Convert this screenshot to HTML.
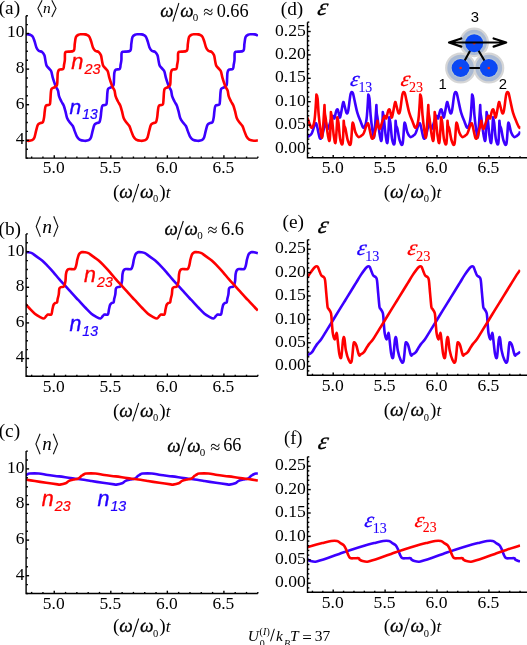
<!DOCTYPE html>
<html><head><meta charset="utf-8"><style>
html,body{margin:0;padding:0;background:#fff;}
body{width:527px;height:645px;overflow:hidden;}
svg{display:block;will-change:transform;}
</style></head><body>
<svg width="527" height="645" viewBox="0 0 527 645">
<rect width="100%" height="100%" fill="#fff"/>
<clipPath id="c2"><rect x="25.98" y="0" width="232.15" height="645"/></clipPath>
<g clip-path="url(#c2)">
<path d="M22.98,34.51 C23.3,34.48 24.4,34.34 24.9,34.3 C25.4,34.26 25.4,34.28 26,34.3 C26.6,34.32 27.72,34.27 28.5,34.4 C29.28,34.53 29.95,34.65 30.7,35.1 C31.45,35.55 32.33,36 33,37.1 C33.67,38.2 34.13,39.98 34.7,41.7 C35.27,43.42 35.73,45.88 36.4,47.4 C37.07,48.92 37.75,50.05 38.7,50.8 C39.65,51.55 41.15,51.15 42.1,51.9 C43.05,52.65 43.83,53.78 44.4,55.3 C44.97,56.82 45.13,59.28 45.5,61 C45.87,62.72 46.03,64.37 46.6,65.6 C47.17,66.83 48.13,67.45 48.9,68.4 C49.67,69.35 50.53,69.68 51.2,71.3 C51.87,72.92 52.23,75.82 52.9,78.1 C53.57,80.38 54.63,83.43 55.2,85 C55.77,86.57 55.83,86.55 56.3,87.5 C56.77,88.45 57.53,89.22 58,90.7 C58.47,92.18 58.53,94.6 59.1,96.4 C59.67,98.2 60.63,99.98 61.4,101.5 C62.17,103.02 63.03,103.88 63.7,105.5 C64.37,107.12 64.83,109.12 65.4,111.2 C65.97,113.28 66.35,116.1 67.1,118 C67.85,119.9 68.95,121.27 69.9,122.6 C70.85,123.93 72.03,124.67 72.8,126 C73.57,127.33 73.83,128.88 74.5,130.6 C75.17,132.32 75.95,134.78 76.8,136.3 C77.65,137.82 78.37,138.95 79.6,139.7 C80.83,140.45 82.68,140.72 84.2,140.8 C85.72,140.88 87.57,140.77 88.7,140.2 C89.83,139.63 90.33,139 91,137.4 C91.67,135.8 92.13,132.68 92.7,130.6 C93.27,128.52 93.73,126.13 94.4,124.9 C95.07,123.67 95.85,123.68 96.7,123.2 C97.55,122.72 98.83,123.05 99.5,122 C100.17,120.95 100.4,118.7 100.7,116.9 C101,115.1 101.02,113.07 101.3,111.2 C101.58,109.33 101.58,106.8 102.4,105.7 C103.22,104.6 105.43,105.75 106.2,104.6 C106.97,103.45 106.8,100.8 107,98.8 C107.2,96.8 107.2,94.28 107.4,92.6 C107.6,90.92 107.55,89.62 108.2,88.7 C108.85,87.78 110.4,87.75 111.3,87.1 C112.2,86.45 113.15,86.22 113.6,84.8 C114.05,83.38 113.87,80.67 114,78.6 C114.13,76.53 114.08,73.88 114.4,72.4 C114.72,70.92 115,70.28 115.9,69.7 C116.8,69.12 119.02,69.73 119.8,68.9 C120.58,68.07 120.33,66.18 120.6,64.7 C120.87,63.22 121.23,61.95 121.4,60 C121.57,58.05 121.28,54.38 121.6,53 C121.92,51.62 121.87,52.07 123.3,51.7 C124.73,51.33 128.87,52.1 130.2,50.8 C131.53,49.5 130.92,46.18 131.3,43.9 C131.68,41.62 131.83,38.65 132.5,37.1 C133.17,35.55 134.38,35.07 135.3,34.6 C136.22,34.13 137.37,34.35 138,34.3 C138.63,34.25 138.5,34.28 139.1,34.3 C139.7,34.32 140.82,34.27 141.6,34.4 C142.38,34.53 143.05,34.65 143.8,35.1 C144.55,35.55 145.43,36 146.1,37.1 C146.77,38.2 147.23,39.98 147.8,41.7 C148.37,43.42 148.83,45.88 149.5,47.4 C150.17,48.92 150.85,50.05 151.8,50.8 C152.75,51.55 154.25,51.15 155.2,51.9 C156.15,52.65 156.93,53.78 157.5,55.3 C158.07,56.82 158.23,59.28 158.6,61 C158.97,62.72 159.13,64.37 159.7,65.6 C160.27,66.83 161.23,67.45 162,68.4 C162.77,69.35 163.63,69.68 164.3,71.3 C164.97,72.92 165.33,75.82 166,78.1 C166.67,80.38 167.73,83.43 168.3,85 C168.87,86.57 168.93,86.55 169.4,87.5 C169.87,88.45 170.63,89.22 171.1,90.7 C171.57,92.18 171.63,94.6 172.2,96.4 C172.77,98.2 173.73,99.98 174.5,101.5 C175.27,103.02 176.13,103.88 176.8,105.5 C177.47,107.12 177.93,109.12 178.5,111.2 C179.07,113.28 179.45,116.1 180.2,118 C180.95,119.9 182.05,121.27 183,122.6 C183.95,123.93 185.13,124.67 185.9,126 C186.67,127.33 186.93,128.88 187.6,130.6 C188.27,132.32 189.05,134.78 189.9,136.3 C190.75,137.82 191.47,138.95 192.7,139.7 C193.93,140.45 195.78,140.72 197.3,140.8 C198.82,140.88 200.67,140.77 201.8,140.2 C202.93,139.63 203.43,139 204.1,137.4 C204.77,135.8 205.23,132.68 205.8,130.6 C206.37,128.52 206.83,126.13 207.5,124.9 C208.17,123.67 208.95,123.68 209.8,123.2 C210.65,122.72 211.93,123.05 212.6,122 C213.27,120.95 213.5,118.7 213.8,116.9 C214.1,115.1 214.12,113.07 214.4,111.2 C214.68,109.33 214.68,106.8 215.5,105.7 C216.32,104.6 218.53,105.75 219.3,104.6 C220.07,103.45 219.9,100.8 220.1,98.8 C220.3,96.8 220.3,94.28 220.5,92.6 C220.7,90.92 220.65,89.62 221.3,88.7 C221.95,87.78 223.5,87.75 224.4,87.1 C225.3,86.45 226.25,86.22 226.7,84.8 C227.15,83.38 226.97,80.67 227.1,78.6 C227.23,76.53 227.18,73.88 227.5,72.4 C227.82,70.92 228.1,70.28 229,69.7 C229.9,69.12 232.12,69.73 232.9,68.9 C233.68,68.07 233.43,66.18 233.7,64.7 C233.97,63.22 234.33,61.95 234.5,60 C234.67,58.05 234.38,54.38 234.7,53 C235.02,51.62 234.97,52.07 236.4,51.7 C237.83,51.33 241.97,52.1 243.3,50.8 C244.63,49.5 244.02,46.18 244.4,43.9 C244.78,41.62 244.93,38.65 245.6,37.1 C246.27,35.55 247.48,35.07 248.4,34.6 C249.32,34.13 250.47,34.35 251.1,34.3 C251.73,34.25 251.6,34.28 252.2,34.3 C252.8,34.32 253.92,34.27 254.7,34.4 C255.48,34.53 256.38,34.85 256.9,35.1 C257.42,35.35 257.67,35.77 257.83,35.91" fill="none" stroke="#3c00ff" stroke-width="2.6" stroke-linejoin="round" stroke-linecap="butt"/>
<path d="M22.98,139.61 C22.99,139.62 22.27,139.5 23.05,139.7 C23.83,139.9 26.13,140.72 27.65,140.8 C29.17,140.88 31.02,140.77 32.15,140.2 C33.28,139.63 33.78,139 34.45,137.4 C35.12,135.8 35.58,132.68 36.15,130.6 C36.72,128.52 37.18,126.13 37.85,124.9 C38.52,123.67 39.3,123.68 40.15,123.2 C41,122.72 42.28,123.05 42.95,122 C43.62,120.95 43.85,118.7 44.15,116.9 C44.45,115.1 44.47,113.07 44.75,111.2 C45.03,109.33 45.03,106.8 45.85,105.7 C46.67,104.6 48.88,105.75 49.65,104.6 C50.42,103.45 50.25,100.8 50.45,98.8 C50.65,96.8 50.65,94.28 50.85,92.6 C51.05,90.92 51,89.62 51.65,88.7 C52.3,87.78 53.85,87.75 54.75,87.1 C55.65,86.45 56.6,86.22 57.05,84.8 C57.5,83.38 57.32,80.67 57.45,78.6 C57.58,76.53 57.53,73.88 57.85,72.4 C58.17,70.92 58.45,70.28 59.35,69.7 C60.25,69.12 62.47,69.73 63.25,68.9 C64.03,68.07 63.78,66.18 64.05,64.7 C64.32,63.22 64.68,61.95 64.85,60 C65.02,58.05 64.73,54.38 65.05,53 C65.37,51.62 65.32,52.07 66.75,51.7 C68.18,51.33 72.32,52.1 73.65,50.8 C74.98,49.5 74.37,46.18 74.75,43.9 C75.13,41.62 75.28,38.65 75.95,37.1 C76.62,35.55 77.83,35.07 78.75,34.6 C79.67,34.13 80.82,34.35 81.45,34.3 C82.08,34.25 81.95,34.28 82.55,34.3 C83.15,34.32 84.27,34.27 85.05,34.4 C85.83,34.53 86.5,34.65 87.25,35.1 C88,35.55 88.88,36 89.55,37.1 C90.22,38.2 90.68,39.98 91.25,41.7 C91.82,43.42 92.28,45.88 92.95,47.4 C93.62,48.92 94.3,50.05 95.25,50.8 C96.2,51.55 97.7,51.15 98.65,51.9 C99.6,52.65 100.38,53.78 100.95,55.3 C101.52,56.82 101.68,59.28 102.05,61 C102.42,62.72 102.58,64.37 103.15,65.6 C103.72,66.83 104.68,67.45 105.45,68.4 C106.22,69.35 107.08,69.68 107.75,71.3 C108.42,72.92 108.78,75.82 109.45,78.1 C110.12,80.38 111.18,83.43 111.75,85 C112.32,86.57 112.38,86.55 112.85,87.5 C113.32,88.45 114.08,89.22 114.55,90.7 C115.02,92.18 115.08,94.6 115.65,96.4 C116.22,98.2 117.18,99.98 117.95,101.5 C118.72,103.02 119.58,103.88 120.25,105.5 C120.92,107.12 121.38,109.12 121.95,111.2 C122.52,113.28 122.9,116.1 123.65,118 C124.4,119.9 125.5,121.27 126.45,122.6 C127.4,123.93 128.58,124.67 129.35,126 C130.12,127.33 130.38,128.88 131.05,130.6 C131.72,132.32 132.5,134.78 133.35,136.3 C134.2,137.82 134.92,138.95 136.15,139.7 C137.38,140.45 139.23,140.72 140.75,140.8 C142.27,140.88 144.12,140.77 145.25,140.2 C146.38,139.63 146.88,139 147.55,137.4 C148.22,135.8 148.68,132.68 149.25,130.6 C149.82,128.52 150.28,126.13 150.95,124.9 C151.62,123.67 152.4,123.68 153.25,123.2 C154.1,122.72 155.38,123.05 156.05,122 C156.72,120.95 156.95,118.7 157.25,116.9 C157.55,115.1 157.57,113.07 157.85,111.2 C158.13,109.33 158.13,106.8 158.95,105.7 C159.77,104.6 161.98,105.75 162.75,104.6 C163.52,103.45 163.35,100.8 163.55,98.8 C163.75,96.8 163.75,94.28 163.95,92.6 C164.15,90.92 164.1,89.62 164.75,88.7 C165.4,87.78 166.95,87.75 167.85,87.1 C168.75,86.45 169.7,86.22 170.15,84.8 C170.6,83.38 170.42,80.67 170.55,78.6 C170.68,76.53 170.63,73.88 170.95,72.4 C171.27,70.92 171.55,70.28 172.45,69.7 C173.35,69.12 175.57,69.73 176.35,68.9 C177.13,68.07 176.88,66.18 177.15,64.7 C177.42,63.22 177.78,61.95 177.95,60 C178.12,58.05 177.83,54.38 178.15,53 C178.47,51.62 178.42,52.07 179.85,51.7 C181.28,51.33 185.42,52.1 186.75,50.8 C188.08,49.5 187.47,46.18 187.85,43.9 C188.23,41.62 188.38,38.65 189.05,37.1 C189.72,35.55 190.93,35.07 191.85,34.6 C192.77,34.13 193.92,34.35 194.55,34.3 C195.18,34.25 195.05,34.28 195.65,34.3 C196.25,34.32 197.37,34.27 198.15,34.4 C198.93,34.53 199.6,34.65 200.35,35.1 C201.1,35.55 201.98,36 202.65,37.1 C203.32,38.2 203.78,39.98 204.35,41.7 C204.92,43.42 205.38,45.88 206.05,47.4 C206.72,48.92 207.4,50.05 208.35,50.8 C209.3,51.55 210.8,51.15 211.75,51.9 C212.7,52.65 213.48,53.78 214.05,55.3 C214.62,56.82 214.78,59.28 215.15,61 C215.52,62.72 215.68,64.37 216.25,65.6 C216.82,66.83 217.78,67.45 218.55,68.4 C219.32,69.35 220.18,69.68 220.85,71.3 C221.52,72.92 221.88,75.82 222.55,78.1 C223.22,80.38 224.28,83.43 224.85,85 C225.42,86.57 225.48,86.55 225.95,87.5 C226.42,88.45 227.18,89.22 227.65,90.7 C228.12,92.18 228.18,94.6 228.75,96.4 C229.32,98.2 230.28,99.98 231.05,101.5 C231.82,103.02 232.68,103.88 233.35,105.5 C234.02,107.12 234.48,109.12 235.05,111.2 C235.62,113.28 236,116.1 236.75,118 C237.5,119.9 238.6,121.27 239.55,122.6 C240.5,123.93 241.68,124.67 242.45,126 C243.22,127.33 243.48,128.88 244.15,130.6 C244.82,132.32 245.6,134.78 246.45,136.3 C247.3,137.82 248.02,138.95 249.25,139.7 C250.48,140.45 252.42,140.71 253.85,140.8 C255.28,140.89 257.17,140.36 257.83,140.27" fill="none" stroke="#ff0000" stroke-width="2.6" stroke-linejoin="round" stroke-linecap="butt"/>
</g>
<clipPath id="c7"><rect x="25.98" y="0" width="232.15" height="645"/></clipPath>
<g clip-path="url(#c7)">
<path d="M22.98,253.8 C23.3,253.54 24.4,252.48 24.9,252.2 C25.4,251.92 25.48,252.1 26,252.1 C26.52,252.1 27.03,252.02 28,252.2 C28.97,252.38 30.4,252.5 31.8,253.2 C33.2,253.9 34.68,255.2 36.4,256.4 C38.12,257.6 40.2,258.78 42.1,260.4 C44,262.02 45.9,264.12 47.8,266.1 C49.7,268.08 51.6,270.12 53.5,272.3 C55.4,274.48 57.3,277.02 59.2,279.2 C61.1,281.38 63,283.32 64.9,285.4 C66.8,287.48 68.7,289.6 70.6,291.7 C72.5,293.8 74.73,296.32 76.3,298 C77.87,299.68 78.43,300.13 80,301.8 C81.57,303.47 83.8,306.02 85.7,308 C87.6,309.98 89.7,312.27 91.4,313.7 C93.1,315.13 94.38,315.8 95.9,316.6 C97.42,317.4 99.35,318.6 100.5,318.5 C101.65,318.4 102.13,316.65 102.8,316 C103.47,315.35 103.65,314.88 104.5,314.6 C105.35,314.32 107.15,315.2 107.9,314.3 C108.65,313.4 108.62,310.82 109,309.2 C109.38,307.58 109.72,305.65 110.2,304.6 C110.68,303.55 111.33,303.28 111.9,302.9 C112.47,302.52 113.22,302.97 113.6,302.3 C113.98,301.63 113.92,300.22 114.2,298.9 C114.48,297.58 115.02,296.1 115.3,294.4 C115.58,292.7 115.53,289.9 115.9,288.7 C116.27,287.5 116.72,287.6 117.5,287.2 C118.28,286.8 119.85,287.33 120.6,286.3 C121.35,285.27 121.68,283.02 122,281 C122.32,278.98 122.22,276 122.5,274.2 C122.78,272.4 123.13,271.07 123.7,270.2 C124.27,269.33 124.67,269.2 125.9,269 C127.13,268.8 129.95,269.65 131.1,269 C132.25,268.35 132.33,266.7 132.8,265.1 C133.27,263.5 133.43,261.22 133.9,259.4 C134.37,257.58 134.92,255.4 135.6,254.2 C136.28,253 137.42,252.55 138,252.2 C138.58,251.85 138.58,252.1 139.1,252.1 C139.62,252.1 140.13,252.02 141.1,252.2 C142.07,252.38 143.5,252.5 144.9,253.2 C146.3,253.9 147.78,255.2 149.5,256.4 C151.22,257.6 153.3,258.78 155.2,260.4 C157.1,262.02 159,264.12 160.9,266.1 C162.8,268.08 164.7,270.12 166.6,272.3 C168.5,274.48 170.4,277.02 172.3,279.2 C174.2,281.38 176.1,283.32 178,285.4 C179.9,287.48 181.8,289.6 183.7,291.7 C185.6,293.8 187.83,296.32 189.4,298 C190.97,299.68 191.53,300.13 193.1,301.8 C194.67,303.47 196.9,306.02 198.8,308 C200.7,309.98 202.8,312.27 204.5,313.7 C206.2,315.13 207.48,315.8 209,316.6 C210.52,317.4 212.45,318.6 213.6,318.5 C214.75,318.4 215.23,316.65 215.9,316 C216.57,315.35 216.75,314.88 217.6,314.6 C218.45,314.32 220.25,315.2 221,314.3 C221.75,313.4 221.72,310.82 222.1,309.2 C222.48,307.58 222.82,305.65 223.3,304.6 C223.78,303.55 224.43,303.28 225,302.9 C225.57,302.52 226.32,302.97 226.7,302.3 C227.08,301.63 227.02,300.22 227.3,298.9 C227.58,297.58 228.12,296.1 228.4,294.4 C228.68,292.7 228.63,289.9 229,288.7 C229.37,287.5 229.82,287.6 230.6,287.2 C231.38,286.8 232.95,287.33 233.7,286.3 C234.45,285.27 234.78,283.02 235.1,281 C235.42,278.98 235.32,276 235.6,274.2 C235.88,272.4 236.23,271.07 236.8,270.2 C237.37,269.33 237.77,269.2 239,269 C240.23,268.8 243.05,269.65 244.2,269 C245.35,268.35 245.43,266.7 245.9,265.1 C246.37,263.5 246.53,261.22 247,259.4 C247.47,257.58 248.02,255.4 248.7,254.2 C249.38,253 250.52,252.55 251.1,252.2 C251.68,251.85 251.68,252.1 252.2,252.1 C252.72,252.1 253.26,252.02 254.2,252.2 C255.14,252.38 257.22,253 257.83,253.16" fill="none" stroke="#3c00ff" stroke-width="2.6" stroke-linejoin="round" stroke-linecap="butt"/>
<path d="M22.98,301.31 C23.05,301.39 22.42,300.69 23.45,301.8 C24.48,302.91 27.25,306.02 29.15,308 C31.05,309.98 33.15,312.27 34.85,313.7 C36.55,315.13 37.83,315.8 39.35,316.6 C40.87,317.4 42.8,318.6 43.95,318.5 C45.1,318.4 45.58,316.65 46.25,316 C46.92,315.35 47.1,314.88 47.95,314.6 C48.8,314.32 50.6,315.2 51.35,314.3 C52.1,313.4 52.07,310.82 52.45,309.2 C52.83,307.58 53.17,305.65 53.65,304.6 C54.13,303.55 54.78,303.28 55.35,302.9 C55.92,302.52 56.67,302.97 57.05,302.3 C57.43,301.63 57.37,300.22 57.65,298.9 C57.93,297.58 58.47,296.1 58.75,294.4 C59.03,292.7 58.98,289.9 59.35,288.7 C59.72,287.5 60.17,287.6 60.95,287.2 C61.73,286.8 63.3,287.33 64.05,286.3 C64.8,285.27 65.13,283.02 65.45,281 C65.77,278.98 65.67,276 65.95,274.2 C66.23,272.4 66.58,271.07 67.15,270.2 C67.72,269.33 68.12,269.2 69.35,269 C70.58,268.8 73.4,269.65 74.55,269 C75.7,268.35 75.78,266.7 76.25,265.1 C76.72,263.5 76.88,261.22 77.35,259.4 C77.82,257.58 78.37,255.4 79.05,254.2 C79.73,253 80.87,252.55 81.45,252.2 C82.03,251.85 82.03,252.1 82.55,252.1 C83.07,252.1 83.58,252.02 84.55,252.2 C85.52,252.38 86.95,252.5 88.35,253.2 C89.75,253.9 91.23,255.2 92.95,256.4 C94.67,257.6 96.75,258.78 98.65,260.4 C100.55,262.02 102.45,264.12 104.35,266.1 C106.25,268.08 108.15,270.12 110.05,272.3 C111.95,274.48 113.85,277.02 115.75,279.2 C117.65,281.38 119.55,283.32 121.45,285.4 C123.35,287.48 125.25,289.6 127.15,291.7 C129.05,293.8 131.28,296.32 132.85,298 C134.42,299.68 134.98,300.13 136.55,301.8 C138.12,303.47 140.35,306.02 142.25,308 C144.15,309.98 146.25,312.27 147.95,313.7 C149.65,315.13 150.93,315.8 152.45,316.6 C153.97,317.4 155.9,318.6 157.05,318.5 C158.2,318.4 158.68,316.65 159.35,316 C160.02,315.35 160.2,314.88 161.05,314.6 C161.9,314.32 163.7,315.2 164.45,314.3 C165.2,313.4 165.17,310.82 165.55,309.2 C165.93,307.58 166.27,305.65 166.75,304.6 C167.23,303.55 167.88,303.28 168.45,302.9 C169.02,302.52 169.77,302.97 170.15,302.3 C170.53,301.63 170.47,300.22 170.75,298.9 C171.03,297.58 171.57,296.1 171.85,294.4 C172.13,292.7 172.08,289.9 172.45,288.7 C172.82,287.5 173.27,287.6 174.05,287.2 C174.83,286.8 176.4,287.33 177.15,286.3 C177.9,285.27 178.23,283.02 178.55,281 C178.87,278.98 178.77,276 179.05,274.2 C179.33,272.4 179.68,271.07 180.25,270.2 C180.82,269.33 181.22,269.2 182.45,269 C183.68,268.8 186.5,269.65 187.65,269 C188.8,268.35 188.88,266.7 189.35,265.1 C189.82,263.5 189.98,261.22 190.45,259.4 C190.92,257.58 191.47,255.4 192.15,254.2 C192.83,253 193.97,252.55 194.55,252.2 C195.13,251.85 195.13,252.1 195.65,252.1 C196.17,252.1 196.68,252.02 197.65,252.2 C198.62,252.38 200.05,252.5 201.45,253.2 C202.85,253.9 204.33,255.2 206.05,256.4 C207.77,257.6 209.85,258.78 211.75,260.4 C213.65,262.02 215.55,264.12 217.45,266.1 C219.35,268.08 221.25,270.12 223.15,272.3 C225.05,274.48 226.95,277.02 228.85,279.2 C230.75,281.38 232.65,283.32 234.55,285.4 C236.45,287.48 238.35,289.6 240.25,291.7 C242.15,293.8 244.38,296.32 245.95,298 C247.52,299.68 248.08,300.13 249.65,301.8 C251.22,303.47 253.99,306.55 255.35,308 C256.71,309.45 257.42,310.07 257.83,310.48" fill="none" stroke="#ff0000" stroke-width="2.6" stroke-linejoin="round" stroke-linecap="butt"/>
</g>
<clipPath id="c12"><rect x="25.98" y="0" width="232.15" height="645"/></clipPath>
<g clip-path="url(#c12)">
<path d="M22.98,477.53 C23.31,477.24 24.5,476.19 25,475.8 C25.5,475.41 25.57,475.47 26,475.2 C26.43,474.93 27,474.48 27.6,474.2 C28.2,473.92 27.75,473.62 29.6,473.5 C31.45,473.38 35.67,473.25 38.7,473.5 C41.73,473.75 44.38,474.52 47.8,475 C51.22,475.48 55.4,475.88 59.2,476.4 C63,476.92 67.13,477.62 70.6,478.1 C74.07,478.58 76.53,478.82 80,479.3 C83.47,479.78 87.6,480.42 91.4,481 C95.2,481.58 99,482.23 102.8,482.8 C106.6,483.37 111.93,484.1 114.2,484.4 C116.47,484.7 115.08,484.8 116.4,484.6 C117.72,484.4 120.57,483.82 122.1,483.2 C123.63,482.58 124.27,481.5 125.6,480.9 C126.93,480.3 128.58,479.97 130.1,479.6 C131.62,479.23 133.37,479.33 134.7,478.7 C136.03,478.07 137.37,476.38 138.1,475.8 C138.83,475.22 138.67,475.47 139.1,475.2 C139.53,474.93 140.1,474.48 140.7,474.2 C141.3,473.92 140.85,473.62 142.7,473.5 C144.55,473.38 148.77,473.25 151.8,473.5 C154.83,473.75 157.48,474.52 160.9,475 C164.32,475.48 168.5,475.88 172.3,476.4 C176.1,476.92 180.23,477.62 183.7,478.1 C187.17,478.58 189.63,478.82 193.1,479.3 C196.57,479.78 200.7,480.42 204.5,481 C208.3,481.58 212.1,482.23 215.9,482.8 C219.7,483.37 225.03,484.1 227.3,484.4 C229.57,484.7 228.18,484.8 229.5,484.6 C230.82,484.4 233.67,483.82 235.2,483.2 C236.73,482.58 237.37,481.5 238.7,480.9 C240.03,480.3 241.68,479.97 243.2,479.6 C244.72,479.23 246.47,479.33 247.8,478.7 C249.13,478.07 250.47,476.38 251.2,475.8 C251.93,475.22 251.77,475.47 252.2,475.2 C252.63,474.93 253.2,474.48 253.8,474.2 C254.4,473.92 255.13,473.62 255.8,473.5 C256.47,473.38 257.49,473.5 257.83,473.5" fill="none" stroke="#3c00ff" stroke-width="2.6" stroke-linejoin="round" stroke-linecap="butt"/>
<path d="M22.98,479.24 C23.05,479.25 21.47,479.01 23.45,479.3 C25.43,479.59 31.05,480.42 34.85,481 C38.65,481.58 42.45,482.23 46.25,482.8 C50.05,483.37 55.38,484.1 57.65,484.4 C59.92,484.7 58.53,484.8 59.85,484.6 C61.17,484.4 64.02,483.82 65.55,483.2 C67.08,482.58 67.72,481.5 69.05,480.9 C70.38,480.3 72.03,479.97 73.55,479.6 C75.07,479.23 76.82,479.33 78.15,478.7 C79.48,478.07 80.82,476.38 81.55,475.8 C82.28,475.22 82.12,475.47 82.55,475.2 C82.98,474.93 83.55,474.48 84.15,474.2 C84.75,473.92 84.3,473.62 86.15,473.5 C88,473.38 92.22,473.25 95.25,473.5 C98.28,473.75 100.93,474.52 104.35,475 C107.77,475.48 111.95,475.88 115.75,476.4 C119.55,476.92 123.68,477.62 127.15,478.1 C130.62,478.58 133.08,478.82 136.55,479.3 C140.02,479.78 144.15,480.42 147.95,481 C151.75,481.58 155.55,482.23 159.35,482.8 C163.15,483.37 168.48,484.1 170.75,484.4 C173.02,484.7 171.63,484.8 172.95,484.6 C174.27,484.4 177.12,483.82 178.65,483.2 C180.18,482.58 180.82,481.5 182.15,480.9 C183.48,480.3 185.13,479.97 186.65,479.6 C188.17,479.23 189.92,479.33 191.25,478.7 C192.58,478.07 193.92,476.38 194.65,475.8 C195.38,475.22 195.22,475.47 195.65,475.2 C196.08,474.93 196.65,474.48 197.25,474.2 C197.85,473.92 197.4,473.62 199.25,473.5 C201.1,473.38 205.32,473.25 208.35,473.5 C211.38,473.75 214.03,474.52 217.45,475 C220.87,475.48 225.05,475.88 228.85,476.4 C232.65,476.92 236.78,477.62 240.25,478.1 C243.72,478.58 246.72,478.9 249.65,479.3 C252.58,479.7 256.47,480.32 257.83,480.52" fill="none" stroke="#ff0000" stroke-width="2.6" stroke-linejoin="round" stroke-linecap="butt"/>
</g>
<clipPath id="c17"><rect x="307.25" y="0" width="213.09" height="645"/></clipPath>
<g clip-path="url(#c17)">
<path d="M304.25,133.52 C304.61,134.1 305.56,136.62 306.4,137 C307.24,137.38 308.42,136.38 309.3,135.8 C310.18,135.22 310.82,135.25 311.7,133.5 C312.58,131.75 313.83,126.95 314.6,125.3 C315.37,123.65 315.72,122.62 316.3,123.6 C316.88,124.58 317.52,128.78 318.1,131.2 C318.68,133.62 319.22,137.03 319.8,138.1 C320.38,139.17 321.02,138.75 321.6,137.6 C322.18,136.45 322.63,134.02 323.3,131.2 C323.97,128.38 325.6,120.7 325.6,120.7 C325.6,120.7 325.99,124.37 326.39,125.72 C326.79,127.07 327.35,129.44 328,128.8 C328.65,128.16 329.53,124.03 330.3,121.9 C331.07,119.77 331.92,116.58 332.6,116 C333.28,115.42 333.82,119.17 334.4,118.4 C334.98,117.63 335.53,112.85 336.1,111.4 C336.67,109.95 337.22,108.73 337.8,109.7 C338.38,110.67 339.12,116.33 339.6,117.2 C340.08,118.07 340.12,117.32 340.7,114.9 C341.28,112.48 342.52,104.45 343.1,102.7 C343.68,100.95 343.62,102.67 344.2,104.4 C344.78,106.13 345.92,112.13 346.6,113.1 C347.28,114.07 347.63,113.38 348.3,110.2 C348.97,107.02 349.87,96.9 350.6,94 C351.33,91.1 352.07,91.83 352.7,92.8 C353.33,93.77 353.63,96.5 354.4,99.8 C355.17,103.1 356.23,108.92 357.3,112.6 C358.37,116.28 359.73,119.38 360.8,121.9 C361.87,124.42 362.75,128.1 363.7,127.7 C364.65,127.3 365.73,125.03 366.5,119.5 C367.27,113.97 368.3,94.5 368.3,94.5 C368.3,94.5 369.12,95.2 369.5,98.6 C369.88,102 370.12,109.67 370.6,114.9 C371.08,120.13 371.82,126.32 372.4,130 C372.98,133.68 373.53,139.52 374.1,137 C374.67,134.48 375.42,120.23 375.8,114.9 C376.18,109.57 376.4,105 376.4,105 C376.4,105 376.6,111.07 376.8,113.31 C377,115.54 377.08,114.65 377.6,118.4 C378.12,122.15 379.22,132.32 379.9,135.8 C380.58,139.28 381.22,143.27 381.7,139.3 C382.18,135.33 382.8,112 382.8,112 C382.8,112 383.52,115.53 384,119.5 C384.48,123.47 385.12,132.02 385.7,135.8 C386.28,139.58 386.92,145.3 387.5,142.2 C388.08,139.1 389.2,117.2 389.2,117.2 C389.2,117.2 389.92,119.32 390.4,123 C390.88,126.68 391.42,135.9 392.1,139.3 C392.78,142.7 393.92,146.5 394.5,143.4 C395.08,140.3 395.6,120.7 395.6,120.7 C395.6,120.7 395.89,124.37 396.19,125.72 C396.49,127.07 396.82,126.34 397.4,128.8 C397.98,131.26 398.83,137.97 399.7,140.5 C400.57,143.03 401.83,146.72 402.6,144 C403.37,141.28 403.82,127.4 404.3,124.2 C404.78,121 405,123.45 405.5,124.8 C406,126.15 406.52,130.27 407.3,132.3 C408.08,134.33 409.23,136.42 410.2,137 C411.17,137.58 412.22,136.38 413.1,135.8 C413.98,135.22 414.62,135.25 415.5,133.5 C416.38,131.75 417.63,126.95 418.4,125.3 C419.17,123.65 419.52,122.62 420.1,123.6 C420.68,124.58 421.32,128.78 421.9,131.2 C422.48,133.62 423.02,137.03 423.6,138.1 C424.18,139.17 424.82,138.75 425.4,137.6 C425.98,136.45 426.43,134.02 427.1,131.2 C427.77,128.38 429.4,120.7 429.4,120.7 C429.4,120.7 429.79,124.37 430.19,125.72 C430.59,127.07 431.15,129.44 431.8,128.8 C432.45,128.16 433.33,124.03 434.1,121.9 C434.87,119.77 435.72,116.58 436.4,116 C437.08,115.42 437.62,119.17 438.2,118.4 C438.78,117.63 439.33,112.85 439.9,111.4 C440.47,109.95 441.02,108.73 441.6,109.7 C442.18,110.67 442.92,116.33 443.4,117.2 C443.88,118.07 443.92,117.32 444.5,114.9 C445.08,112.48 446.32,104.45 446.9,102.7 C447.48,100.95 447.42,102.67 448,104.4 C448.58,106.13 449.72,112.13 450.4,113.1 C451.08,114.07 451.43,113.38 452.1,110.2 C452.77,107.02 453.67,96.9 454.4,94 C455.13,91.1 455.87,91.83 456.5,92.8 C457.13,93.77 457.43,96.5 458.2,99.8 C458.97,103.1 460.03,108.92 461.1,112.6 C462.17,116.28 463.53,119.38 464.6,121.9 C465.67,124.42 466.55,128.1 467.5,127.7 C468.45,127.3 469.53,125.03 470.3,119.5 C471.07,113.97 472.1,94.5 472.1,94.5 C472.1,94.5 472.92,95.2 473.3,98.6 C473.68,102 473.92,109.67 474.4,114.9 C474.88,120.13 475.62,126.32 476.2,130 C476.78,133.68 477.33,139.52 477.9,137 C478.47,134.48 479.22,120.23 479.6,114.9 C479.98,109.57 480.2,105 480.2,105 C480.2,105 480.4,111.07 480.6,113.31 C480.8,115.54 480.88,114.65 481.4,118.4 C481.92,122.15 483.02,132.32 483.7,135.8 C484.38,139.28 485.02,143.27 485.5,139.3 C485.98,135.33 486.6,112 486.6,112 C486.6,112 487.32,115.53 487.8,119.5 C488.28,123.47 488.92,132.02 489.5,135.8 C490.08,139.58 490.72,145.3 491.3,142.2 C491.88,139.1 493,117.2 493,117.2 C493,117.2 493.72,119.32 494.2,123 C494.68,126.68 495.22,135.9 495.9,139.3 C496.58,142.7 497.72,146.5 498.3,143.4 C498.88,140.3 499.4,120.7 499.4,120.7 C499.4,120.7 499.69,124.37 499.99,125.72 C500.29,127.07 500.62,126.34 501.2,128.8 C501.78,131.26 502.63,137.97 503.5,140.5 C504.37,143.03 505.63,146.72 506.4,144 C507.17,141.28 507.62,127.4 508.1,124.2 C508.58,121 508.8,123.45 509.3,124.8 C509.8,126.15 510.32,130.27 511.1,132.3 C511.88,134.33 513.03,136.42 514,137 C514.97,137.58 516.02,136.38 516.9,135.8 C517.78,135.22 518.78,134.23 519.3,133.5 C519.82,132.77 519.92,131.76 520.04,131.41" fill="none" stroke="#3c00ff" stroke-width="2.6" stroke-linejoin="round" stroke-linecap="butt"/>
<path d="M304.25,107.52 C304.44,108.37 304.62,110.2 305.4,112.6 C306.17,115 307.83,119.38 308.9,121.9 C309.97,124.42 310.85,128.1 311.8,127.7 C312.75,127.3 313.83,125.03 314.6,119.5 C315.37,113.97 316.4,94.5 316.4,94.5 C316.4,94.5 317.22,95.2 317.6,98.6 C317.98,102 318.22,109.67 318.7,114.9 C319.18,120.13 319.92,126.32 320.5,130 C321.08,133.68 321.63,139.52 322.2,137 C322.77,134.48 323.52,120.23 323.9,114.9 C324.28,109.57 324.5,105 324.5,105 C324.5,105 324.7,111.07 324.9,113.31 C325.1,115.54 325.18,114.65 325.7,118.4 C326.22,122.15 327.32,132.32 328,135.8 C328.68,139.28 329.32,143.27 329.8,139.3 C330.28,135.33 330.9,112 330.9,112 C330.9,112 331.62,115.53 332.1,119.5 C332.58,123.47 333.22,132.02 333.8,135.8 C334.38,139.58 335.02,145.3 335.6,142.2 C336.18,139.1 337.3,117.2 337.3,117.2 C337.3,117.2 338.02,119.32 338.5,123 C338.98,126.68 339.52,135.9 340.2,139.3 C340.88,142.7 342.02,146.5 342.6,143.4 C343.18,140.3 343.7,120.7 343.7,120.7 C343.7,120.7 343.99,124.37 344.29,125.72 C344.59,127.07 344.92,126.34 345.5,128.8 C346.08,131.26 346.93,137.97 347.8,140.5 C348.67,143.03 349.93,146.72 350.7,144 C351.47,141.28 351.92,127.4 352.4,124.2 C352.88,121 353.1,123.45 353.6,124.8 C354.1,126.15 354.62,130.27 355.4,132.3 C356.18,134.33 357.33,136.42 358.3,137 C359.27,137.58 360.32,136.38 361.2,135.8 C362.08,135.22 362.72,135.25 363.6,133.5 C364.48,131.75 365.73,126.95 366.5,125.3 C367.27,123.65 367.62,122.62 368.2,123.6 C368.78,124.58 369.42,128.78 370,131.2 C370.58,133.62 371.12,137.03 371.7,138.1 C372.28,139.17 372.92,138.75 373.5,137.6 C374.08,136.45 374.53,134.02 375.2,131.2 C375.87,128.38 377.5,120.7 377.5,120.7 C377.5,120.7 377.89,124.37 378.29,125.72 C378.69,127.07 379.25,129.44 379.9,128.8 C380.55,128.16 381.43,124.03 382.2,121.9 C382.97,119.77 383.82,116.58 384.5,116 C385.18,115.42 385.72,119.17 386.3,118.4 C386.88,117.63 387.43,112.85 388,111.4 C388.57,109.95 389.12,108.73 389.7,109.7 C390.28,110.67 391.02,116.33 391.5,117.2 C391.98,118.07 392.02,117.32 392.6,114.9 C393.18,112.48 394.42,104.45 395,102.7 C395.58,100.95 395.52,102.67 396.1,104.4 C396.68,106.13 397.82,112.13 398.5,113.1 C399.18,114.07 399.53,113.38 400.2,110.2 C400.87,107.02 401.77,96.9 402.5,94 C403.23,91.1 403.97,91.83 404.6,92.8 C405.23,93.77 405.53,96.5 406.3,99.8 C407.07,103.1 408.13,108.92 409.2,112.6 C410.27,116.28 411.63,119.38 412.7,121.9 C413.77,124.42 414.65,128.1 415.6,127.7 C416.55,127.3 417.63,125.03 418.4,119.5 C419.17,113.97 420.2,94.5 420.2,94.5 C420.2,94.5 421.02,95.2 421.4,98.6 C421.78,102 422.02,109.67 422.5,114.9 C422.98,120.13 423.72,126.32 424.3,130 C424.88,133.68 425.43,139.52 426,137 C426.57,134.48 427.32,120.23 427.7,114.9 C428.08,109.57 428.3,105 428.3,105 C428.3,105 428.5,111.07 428.7,113.31 C428.9,115.54 428.98,114.65 429.5,118.4 C430.02,122.15 431.12,132.32 431.8,135.8 C432.48,139.28 433.12,143.27 433.6,139.3 C434.08,135.33 434.7,112 434.7,112 C434.7,112 435.42,115.53 435.9,119.5 C436.38,123.47 437.02,132.02 437.6,135.8 C438.18,139.58 438.82,145.3 439.4,142.2 C439.98,139.1 441.1,117.2 441.1,117.2 C441.1,117.2 441.82,119.32 442.3,123 C442.78,126.68 443.32,135.9 444,139.3 C444.68,142.7 445.82,146.5 446.4,143.4 C446.98,140.3 447.5,120.7 447.5,120.7 C447.5,120.7 447.79,124.37 448.09,125.72 C448.39,127.07 448.72,126.34 449.3,128.8 C449.88,131.26 450.73,137.97 451.6,140.5 C452.47,143.03 453.73,146.72 454.5,144 C455.27,141.28 455.72,127.4 456.2,124.2 C456.68,121 456.9,123.45 457.4,124.8 C457.9,126.15 458.42,130.27 459.2,132.3 C459.98,134.33 461.13,136.42 462.1,137 C463.07,137.58 464.12,136.38 465,135.8 C465.88,135.22 466.52,135.25 467.4,133.5 C468.28,131.75 469.53,126.95 470.3,125.3 C471.07,123.65 471.42,122.62 472,123.6 C472.58,124.58 473.22,128.78 473.8,131.2 C474.38,133.62 474.92,137.03 475.5,138.1 C476.08,139.17 476.72,138.75 477.3,137.6 C477.88,136.45 478.33,134.02 479,131.2 C479.67,128.38 481.3,120.7 481.3,120.7 C481.3,120.7 481.69,124.37 482.09,125.72 C482.49,127.07 483.05,129.44 483.7,128.8 C484.35,128.16 485.23,124.03 486,121.9 C486.77,119.77 487.62,116.58 488.3,116 C488.98,115.42 489.52,119.17 490.1,118.4 C490.68,117.63 491.23,112.85 491.8,111.4 C492.37,109.95 492.92,108.73 493.5,109.7 C494.08,110.67 494.82,116.33 495.3,117.2 C495.78,118.07 495.82,117.32 496.4,114.9 C496.98,112.48 498.22,104.45 498.8,102.7 C499.38,100.95 499.32,102.67 499.9,104.4 C500.48,106.13 501.62,112.13 502.3,113.1 C502.98,114.07 503.33,113.38 504,110.2 C504.67,107.02 505.57,96.9 506.3,94 C507.03,91.1 507.77,91.83 508.4,92.8 C509.03,93.77 509.33,96.5 510.1,99.8 C510.87,103.1 511.93,108.92 513,112.6 C514.07,116.28 515.43,119.38 516.5,121.9 C517.57,124.42 518.81,127.05 519.4,127.7 C519.99,128.35 519.93,126.14 520.04,125.83" fill="none" stroke="#ff0000" stroke-width="2.6" stroke-linejoin="round" stroke-linecap="butt"/>
</g>
<clipPath id="c22"><rect x="307.25" y="0" width="213.09" height="645"/></clipPath>
<g clip-path="url(#c22)">
<path d="M304.25,344.93 C304.26,344.94 303.94,343.65 304.3,345 C304.66,346.35 305.87,351.25 306.4,353 C306.93,354.75 307.17,355.22 307.5,355.5 C307.83,355.78 307.68,355.22 308.4,354.7 C309.12,354.18 310.75,353.55 311.8,352.4 C312.85,351.25 313.75,349.27 314.7,347.8 C315.65,346.33 316.42,345.02 317.5,343.6 C318.58,342.18 319.62,341.58 321.2,339.3 C322.78,337.02 325.03,333.08 327,329.9 C328.97,326.72 331,323.45 333,320.2 C335,316.95 337,313.65 339,310.4 C341,307.15 343,303.93 345,300.7 C347,297.47 349.17,293.97 351,291 C352.83,288.03 354.35,285.58 356,282.9 C357.65,280.22 359.27,277.37 360.9,274.9 C362.53,272.43 364.67,269.52 365.8,268.1 C366.93,266.68 367.07,266.62 367.7,266.4 C368.33,266.18 368.98,266 369.6,266.8 C370.22,267.6 370.78,269.75 371.4,271.2 C372.02,272.65 372.57,274.48 373.3,275.5 C374.03,276.52 375.18,276.48 375.8,277.3 C376.42,278.12 376.6,277.7 377,280.4 C377.4,283.1 377.78,289.05 378.2,293.5 C378.62,297.95 379.1,304.52 379.5,307.1 C379.9,309.68 380.03,307.97 380.6,309 C381.17,310.03 382.35,310.72 382.9,313.3 C383.45,315.88 383.58,321.08 383.9,324.5 C384.22,327.92 384.33,331.32 384.8,333.8 C385.27,336.28 386.08,339.55 386.7,339.4 C387.32,339.25 388.03,332.9 388.5,332.9 C388.97,332.9 389.03,335.83 389.5,339.4 C389.97,342.97 390.68,351.35 391.3,354.3 C391.92,357.25 392.58,359.58 393.2,357.1 C393.82,354.62 394.48,342.5 395,339.4 C395.52,336.3 395.83,336.63 396.3,338.5 C396.77,340.37 397.08,347.03 397.8,350.6 C398.52,354.17 399.67,358.05 400.6,359.9 C401.53,361.75 402.62,364.18 403.4,361.7 C404.18,359.22 404.83,348.25 405.3,345 C405.77,341.75 405.73,342.2 406.2,342.2 C406.67,342.2 407.43,343.2 408.1,345 C408.77,346.8 409.67,351.25 410.2,353 C410.73,354.75 410.97,355.22 411.3,355.5 C411.63,355.78 411.48,355.22 412.2,354.7 C412.92,354.18 414.55,353.55 415.6,352.4 C416.65,351.25 417.55,349.27 418.5,347.8 C419.45,346.33 420.22,345.02 421.3,343.6 C422.38,342.18 423.42,341.58 425,339.3 C426.58,337.02 428.83,333.08 430.8,329.9 C432.77,326.72 434.8,323.45 436.8,320.2 C438.8,316.95 440.8,313.65 442.8,310.4 C444.8,307.15 446.8,303.93 448.8,300.7 C450.8,297.47 452.97,293.97 454.8,291 C456.63,288.03 458.15,285.58 459.8,282.9 C461.45,280.22 463.07,277.37 464.7,274.9 C466.33,272.43 468.47,269.52 469.6,268.1 C470.73,266.68 470.87,266.62 471.5,266.4 C472.13,266.18 472.78,266 473.4,266.8 C474.02,267.6 474.58,269.75 475.2,271.2 C475.82,272.65 476.37,274.48 477.1,275.5 C477.83,276.52 478.98,276.48 479.6,277.3 C480.22,278.12 480.4,277.7 480.8,280.4 C481.2,283.1 481.58,289.05 482,293.5 C482.42,297.95 482.9,304.52 483.3,307.1 C483.7,309.68 483.83,307.97 484.4,309 C484.97,310.03 486.15,310.72 486.7,313.3 C487.25,315.88 487.38,321.08 487.7,324.5 C488.02,327.92 488.13,331.32 488.6,333.8 C489.07,336.28 489.88,339.55 490.5,339.4 C491.12,339.25 491.83,332.9 492.3,332.9 C492.77,332.9 492.83,335.83 493.3,339.4 C493.77,342.97 494.48,351.35 495.1,354.3 C495.72,357.25 496.38,359.58 497,357.1 C497.62,354.62 498.28,342.5 498.8,339.4 C499.32,336.3 499.63,336.63 500.1,338.5 C500.57,340.37 500.88,347.03 501.6,350.6 C502.32,354.17 503.47,358.05 504.4,359.9 C505.33,361.75 506.42,364.18 507.2,361.7 C507.98,359.22 508.63,348.25 509.1,345 C509.57,341.75 509.53,342.2 510,342.2 C510.47,342.2 511.23,343.2 511.9,345 C512.57,346.8 513.47,351.25 514,353 C514.53,354.75 514.77,355.22 515.1,355.5 C515.43,355.78 515.28,355.22 516,354.7 C516.72,354.18 518.73,352.95 519.4,352.4 C520.07,351.85 519.93,351.55 520.04,351.38" fill="none" stroke="#3c00ff" stroke-width="2.6" stroke-linejoin="round" stroke-linecap="butt"/>
<path d="M304.25,282.66 C305.04,281.36 307.39,277.33 309,274.9 C310.61,272.47 312.77,269.52 313.9,268.1 C315.03,266.68 315.17,266.62 315.8,266.4 C316.43,266.18 317.08,266 317.7,266.8 C318.32,267.6 318.88,269.75 319.5,271.2 C320.12,272.65 320.67,274.48 321.4,275.5 C322.13,276.52 323.28,276.48 323.9,277.3 C324.52,278.12 324.7,277.7 325.1,280.4 C325.5,283.1 325.88,289.05 326.3,293.5 C326.72,297.95 327.2,304.52 327.6,307.1 C328,309.68 328.13,307.97 328.7,309 C329.27,310.03 330.45,310.72 331,313.3 C331.55,315.88 331.68,321.08 332,324.5 C332.32,327.92 332.43,331.32 332.9,333.8 C333.37,336.28 334.18,339.55 334.8,339.4 C335.42,339.25 336.13,332.9 336.6,332.9 C337.07,332.9 337.13,335.83 337.6,339.4 C338.07,342.97 338.78,351.35 339.4,354.3 C340.02,357.25 340.68,359.58 341.3,357.1 C341.92,354.62 342.58,342.5 343.1,339.4 C343.62,336.3 343.93,336.63 344.4,338.5 C344.87,340.37 345.18,347.03 345.9,350.6 C346.62,354.17 347.77,358.05 348.7,359.9 C349.63,361.75 350.72,364.18 351.5,361.7 C352.28,359.22 352.93,348.25 353.4,345 C353.87,341.75 353.83,342.2 354.3,342.2 C354.77,342.2 355.53,343.2 356.2,345 C356.87,346.8 357.77,351.25 358.3,353 C358.83,354.75 359.07,355.22 359.4,355.5 C359.73,355.78 359.58,355.22 360.3,354.7 C361.02,354.18 362.65,353.55 363.7,352.4 C364.75,351.25 365.65,349.27 366.6,347.8 C367.55,346.33 368.32,345.02 369.4,343.6 C370.48,342.18 371.52,341.58 373.1,339.3 C374.68,337.02 376.93,333.08 378.9,329.9 C380.87,326.72 382.9,323.45 384.9,320.2 C386.9,316.95 388.9,313.65 390.9,310.4 C392.9,307.15 394.9,303.93 396.9,300.7 C398.9,297.47 401.07,293.97 402.9,291 C404.73,288.03 406.25,285.58 407.9,282.9 C409.55,280.22 411.17,277.37 412.8,274.9 C414.43,272.43 416.57,269.52 417.7,268.1 C418.83,266.68 418.97,266.62 419.6,266.4 C420.23,266.18 420.88,266 421.5,266.8 C422.12,267.6 422.68,269.75 423.3,271.2 C423.92,272.65 424.47,274.48 425.2,275.5 C425.93,276.52 427.08,276.48 427.7,277.3 C428.32,278.12 428.5,277.7 428.9,280.4 C429.3,283.1 429.68,289.05 430.1,293.5 C430.52,297.95 431,304.52 431.4,307.1 C431.8,309.68 431.93,307.97 432.5,309 C433.07,310.03 434.25,310.72 434.8,313.3 C435.35,315.88 435.48,321.08 435.8,324.5 C436.12,327.92 436.23,331.32 436.7,333.8 C437.17,336.28 437.98,339.55 438.6,339.4 C439.22,339.25 439.93,332.9 440.4,332.9 C440.87,332.9 440.93,335.83 441.4,339.4 C441.87,342.97 442.58,351.35 443.2,354.3 C443.82,357.25 444.48,359.58 445.1,357.1 C445.72,354.62 446.38,342.5 446.9,339.4 C447.42,336.3 447.73,336.63 448.2,338.5 C448.67,340.37 448.98,347.03 449.7,350.6 C450.42,354.17 451.57,358.05 452.5,359.9 C453.43,361.75 454.52,364.18 455.3,361.7 C456.08,359.22 456.73,348.25 457.2,345 C457.67,341.75 457.63,342.2 458.1,342.2 C458.57,342.2 459.33,343.2 460,345 C460.67,346.8 461.57,351.25 462.1,353 C462.63,354.75 462.87,355.22 463.2,355.5 C463.53,355.78 463.38,355.22 464.1,354.7 C464.82,354.18 466.45,353.55 467.5,352.4 C468.55,351.25 469.45,349.27 470.4,347.8 C471.35,346.33 472.12,345.02 473.2,343.6 C474.28,342.18 475.32,341.58 476.9,339.3 C478.48,337.02 480.73,333.08 482.7,329.9 C484.67,326.72 486.7,323.45 488.7,320.2 C490.7,316.95 492.7,313.65 494.7,310.4 C496.7,307.15 498.7,303.93 500.7,300.7 C502.7,297.47 504.87,293.97 506.7,291 C508.53,288.03 510.05,285.58 511.7,282.9 C513.35,280.22 515.21,277.03 516.6,274.9 C517.99,272.77 519.47,270.92 520.04,270.13" fill="none" stroke="#ff0000" stroke-width="2.6" stroke-linejoin="round" stroke-linecap="butt"/>
</g>
<clipPath id="c27"><rect x="307.25" y="0" width="213.09" height="645"/></clipPath>
<g clip-path="url(#c27)">
<path d="M304.25,558.26 C304.68,558.25 306.21,557.98 306.8,558.2 C307.39,558.42 307.15,559.13 307.8,559.6 C308.45,560.07 309.45,560.65 310.7,561 C311.95,561.35 313.78,561.78 315.3,561.7 C316.82,561.62 317.72,561.13 319.8,560.5 C321.88,559.87 324.57,559 327.8,557.9 C331.03,556.8 335.4,555.23 339.2,553.9 C343,552.57 346.3,551.32 350.6,549.9 C354.9,548.48 361.08,546.53 365,545.4 C368.92,544.27 371.07,543.83 374.1,543.1 C377.13,542.37 380.73,541.35 383.2,541 C385.67,540.65 387.38,540.65 388.9,541 C390.42,541.35 391.15,542.37 392.3,543.1 C393.45,543.83 394.85,544.35 395.8,545.4 C396.75,546.45 397.35,547.98 398,549.4 C398.65,550.82 399.03,552.48 399.7,553.9 C400.37,555.32 400.95,557.17 402,557.9 C403.05,558.63 404.57,558.25 406,558.3 C407.43,558.35 409.67,557.98 410.6,558.2 C411.53,558.42 410.95,559.13 411.6,559.6 C412.25,560.07 413.25,560.65 414.5,561 C415.75,561.35 417.58,561.78 419.1,561.7 C420.62,561.62 421.52,561.13 423.6,560.5 C425.68,559.87 428.37,559 431.6,557.9 C434.83,556.8 439.2,555.23 443,553.9 C446.8,552.57 450.1,551.32 454.4,549.9 C458.7,548.48 464.88,546.53 468.8,545.4 C472.72,544.27 474.87,543.83 477.9,543.1 C480.93,542.37 484.53,541.35 487,541 C489.47,540.65 491.18,540.65 492.7,541 C494.22,541.35 494.95,542.37 496.1,543.1 C497.25,543.83 498.65,544.35 499.6,545.4 C500.55,546.45 501.15,547.98 501.8,549.4 C502.45,550.82 502.83,552.48 503.5,553.9 C504.17,555.32 504.75,557.17 505.8,557.9 C506.85,558.63 508.37,558.25 509.8,558.3 C511.23,558.35 513.47,557.98 514.4,558.2 C515.33,558.42 514.75,559.13 515.4,559.6 C516.05,560.07 517.53,560.72 518.3,561 C519.07,561.28 519.75,561.22 520.04,561.26" fill="none" stroke="#3c00ff" stroke-width="2.6" stroke-linejoin="round" stroke-linecap="butt"/>
<path d="M304.25,548.17 C305.73,547.7 310.11,546.24 313.1,545.4 C316.09,544.56 319.17,543.83 322.2,543.1 C325.23,542.37 328.83,541.35 331.3,541 C333.77,540.65 335.48,540.65 337,541 C338.52,541.35 339.25,542.37 340.4,543.1 C341.55,543.83 342.95,544.35 343.9,545.4 C344.85,546.45 345.45,547.98 346.1,549.4 C346.75,550.82 347.13,552.48 347.8,553.9 C348.47,555.32 349.05,557.17 350.1,557.9 C351.15,558.63 352.67,558.25 354.1,558.3 C355.53,558.35 357.77,557.98 358.7,558.2 C359.63,558.42 359.05,559.13 359.7,559.6 C360.35,560.07 361.35,560.65 362.6,561 C363.85,561.35 365.68,561.78 367.2,561.7 C368.72,561.62 369.62,561.13 371.7,560.5 C373.78,559.87 376.47,559 379.7,557.9 C382.93,556.8 387.3,555.23 391.1,553.9 C394.9,552.57 398.2,551.32 402.5,549.9 C406.8,548.48 412.98,546.53 416.9,545.4 C420.82,544.27 422.97,543.83 426,543.1 C429.03,542.37 432.63,541.35 435.1,541 C437.57,540.65 439.28,540.65 440.8,541 C442.32,541.35 443.05,542.37 444.2,543.1 C445.35,543.83 446.75,544.35 447.7,545.4 C448.65,546.45 449.25,547.98 449.9,549.4 C450.55,550.82 450.93,552.48 451.6,553.9 C452.27,555.32 452.85,557.17 453.9,557.9 C454.95,558.63 456.47,558.25 457.9,558.3 C459.33,558.35 461.57,557.98 462.5,558.2 C463.43,558.42 462.85,559.13 463.5,559.6 C464.15,560.07 465.15,560.65 466.4,561 C467.65,561.35 469.48,561.78 471,561.7 C472.52,561.62 473.42,561.13 475.5,560.5 C477.58,559.87 480.27,559 483.5,557.9 C486.73,556.8 491.1,555.23 494.9,553.9 C498.7,552.57 502.11,551.28 506.3,549.9 C510.49,548.52 517.75,546.32 520.04,545.61" fill="none" stroke="#ff0000" stroke-width="2.6" stroke-linejoin="round" stroke-linecap="butt"/>
</g>
<g stroke="#000" stroke-width="1.4" fill="none">
<path d="M26.1,15.7 V158.1 H257.83"/>
<path d="M26.1,158.1 h1.8"/>
<path d="M26.1,149.2 h1.8"/>
<path d="M26.1,140.3 h3"/>
<path d="M26.1,131.4 h1.8"/>
<path d="M26.1,122.5 h1.8"/>
<path d="M26.1,113.6 h1.8"/>
<path d="M26.1,104.7 h3"/>
<path d="M26.1,95.8 h1.8"/>
<path d="M26.1,86.9 h1.8"/>
<path d="M26.1,78 h1.8"/>
<path d="M26.1,69.1 h3"/>
<path d="M26.1,60.2 h1.8"/>
<path d="M26.1,51.3 h1.8"/>
<path d="M26.1,42.4 h1.8"/>
<path d="M26.1,33.5 h3"/>
<path d="M26.1,24.6 h1.8"/>
<path d="M26.1,15.7 h1.8"/>
<path d="M31.63,158.1 v-1.6"/>
<path d="M42.94,158.1 v-1.6"/>
<path d="M54.25,158.1 v-2.8"/>
<path d="M65.56,158.1 v-1.6"/>
<path d="M76.87,158.1 v-1.6"/>
<path d="M88.18,158.1 v-1.6"/>
<path d="M99.49,158.1 v-1.6"/>
<path d="M110.8,158.1 v-2.8"/>
<path d="M122.11,158.1 v-1.6"/>
<path d="M133.42,158.1 v-1.6"/>
<path d="M144.73,158.1 v-1.6"/>
<path d="M156.04,158.1 v-1.6"/>
<path d="M167.35,158.1 v-2.8"/>
<path d="M178.66,158.1 v-1.6"/>
<path d="M189.97,158.1 v-1.6"/>
<path d="M201.28,158.1 v-1.6"/>
<path d="M212.59,158.1 v-1.6"/>
<path d="M223.9,158.1 v-2.8"/>
<path d="M235.21,158.1 v-1.6"/>
<path d="M246.52,158.1 v-1.6"/>
<path d="M257.83,158.1 v-1.6"/>
</g>
<g stroke="#000" stroke-width="1.4" fill="none">
<path d="M307.5,22.14 V157.8 H529"/>
<path d="M307.5,153.18 h1.8"/>
<path d="M307.5,148.5 h3.2"/>
<path d="M307.5,143.82 h1.8"/>
<path d="M307.5,139.14 h1.8"/>
<path d="M307.5,134.46 h1.8"/>
<path d="M307.5,129.78 h1.8"/>
<path d="M307.5,125.1 h3.2"/>
<path d="M307.5,120.42 h1.8"/>
<path d="M307.5,115.74 h1.8"/>
<path d="M307.5,111.06 h1.8"/>
<path d="M307.5,106.38 h1.8"/>
<path d="M307.5,101.7 h3.2"/>
<path d="M307.5,97.02 h1.8"/>
<path d="M307.5,92.34 h1.8"/>
<path d="M307.5,87.66 h1.8"/>
<path d="M307.5,82.98 h1.8"/>
<path d="M307.5,78.3 h3.2"/>
<path d="M307.5,73.62 h1.8"/>
<path d="M307.5,68.94 h1.8"/>
<path d="M307.5,64.26 h1.8"/>
<path d="M307.5,59.58 h1.8"/>
<path d="M307.5,54.9 h3.2"/>
<path d="M307.5,50.22 h1.8"/>
<path d="M307.5,45.54 h1.8"/>
<path d="M307.5,40.86 h1.8"/>
<path d="M307.5,36.18 h1.8"/>
<path d="M307.5,31.5 h3.2"/>
<path d="M307.5,26.82 h1.8"/>
<path d="M307.5,22.14 h1.8"/>
<path d="M312.44,157.8 v-1.6"/>
<path d="M322.82,157.8 v-1.6"/>
<path d="M333.2,157.8 v-2.8"/>
<path d="M343.58,157.8 v-1.6"/>
<path d="M353.96,157.8 v-1.6"/>
<path d="M364.34,157.8 v-1.6"/>
<path d="M374.72,157.8 v-1.6"/>
<path d="M385.1,157.8 v-2.8"/>
<path d="M395.48,157.8 v-1.6"/>
<path d="M405.86,157.8 v-1.6"/>
<path d="M416.24,157.8 v-1.6"/>
<path d="M426.62,157.8 v-1.6"/>
<path d="M437,157.8 v-2.8"/>
<path d="M447.38,157.8 v-1.6"/>
<path d="M457.76,157.8 v-1.6"/>
<path d="M468.14,157.8 v-1.6"/>
<path d="M478.52,157.8 v-1.6"/>
<path d="M488.9,157.8 v-2.8"/>
<path d="M499.28,157.8 v-1.6"/>
<path d="M509.66,157.8 v-1.6"/>
<path d="M520.04,157.8 v-1.6"/>
<path d="M530.42,157.8 v-1.6"/>
</g>
<text x="24.5" y="144.2" style="font-family:'Liberation Serif',serif;font-size:17.45px" fill="#000" text-anchor="end">4</text>
<text x="24.5" y="108.6" style="font-family:'Liberation Serif',serif;font-size:17.45px" fill="#000" text-anchor="end">6</text>
<text x="24.5" y="73" style="font-family:'Liberation Serif',serif;font-size:17.45px" fill="#000" text-anchor="end">8</text>
<text x="24.5" y="37.4" style="font-family:'Liberation Serif',serif;font-size:17.45px" fill="#000" text-anchor="end">10</text>
<text x="53.75" y="173.4" style="font-family:'Liberation Serif',serif;font-size:17.45px" fill="#000" text-anchor="middle">5.0</text>
<text x="110.3" y="173.4" style="font-family:'Liberation Serif',serif;font-size:17.45px" fill="#000" text-anchor="middle">5.5</text>
<text x="166.85" y="173.4" style="font-family:'Liberation Serif',serif;font-size:17.45px" fill="#000" text-anchor="middle">6.0</text>
<text x="223.4" y="173.4" style="font-family:'Liberation Serif',serif;font-size:17.45px" fill="#000" text-anchor="middle">6.5</text>
<text x="305.8" y="152.6" style="font-family:'Liberation Serif',serif;font-size:17.6px" fill="#000" text-anchor="end">0.00</text>
<text x="305.8" y="129.2" style="font-family:'Liberation Serif',serif;font-size:17.6px" fill="#000" text-anchor="end">0.05</text>
<text x="305.8" y="105.8" style="font-family:'Liberation Serif',serif;font-size:17.6px" fill="#000" text-anchor="end">0.10</text>
<text x="305.8" y="82.4" style="font-family:'Liberation Serif',serif;font-size:17.6px" fill="#000" text-anchor="end">0.15</text>
<text x="305.8" y="59" style="font-family:'Liberation Serif',serif;font-size:17.6px" fill="#000" text-anchor="end">0.20</text>
<text x="305.8" y="35.6" style="font-family:'Liberation Serif',serif;font-size:17.6px" fill="#000" text-anchor="end">0.25</text>
<text x="332.7" y="173.1" style="font-family:'Liberation Serif',serif;font-size:17.6px" fill="#000" text-anchor="middle">5.0</text>
<text x="384.6" y="173.1" style="font-family:'Liberation Serif',serif;font-size:17.6px" fill="#000" text-anchor="middle">5.5</text>
<text x="436.5" y="173.1" style="font-family:'Liberation Serif',serif;font-size:17.6px" fill="#000" text-anchor="middle">6.0</text>
<text x="488.4" y="173.1" style="font-family:'Liberation Serif',serif;font-size:17.6px" fill="#000" text-anchor="middle">6.5</text>
<g stroke="#000" stroke-width="1.4" fill="none">
<path d="M26.1,233.9 V376.3 H257.83"/>
<path d="M26.1,376.3 h1.8"/>
<path d="M26.1,367.4 h1.8"/>
<path d="M26.1,358.5 h3"/>
<path d="M26.1,349.6 h1.8"/>
<path d="M26.1,340.7 h1.8"/>
<path d="M26.1,331.8 h1.8"/>
<path d="M26.1,322.9 h3"/>
<path d="M26.1,314 h1.8"/>
<path d="M26.1,305.1 h1.8"/>
<path d="M26.1,296.2 h1.8"/>
<path d="M26.1,287.3 h3"/>
<path d="M26.1,278.4 h1.8"/>
<path d="M26.1,269.5 h1.8"/>
<path d="M26.1,260.6 h1.8"/>
<path d="M26.1,251.7 h3"/>
<path d="M26.1,242.8 h1.8"/>
<path d="M26.1,233.9 h1.8"/>
<path d="M31.63,376.3 v-1.6"/>
<path d="M42.94,376.3 v-1.6"/>
<path d="M54.25,376.3 v-2.8"/>
<path d="M65.56,376.3 v-1.6"/>
<path d="M76.87,376.3 v-1.6"/>
<path d="M88.18,376.3 v-1.6"/>
<path d="M99.49,376.3 v-1.6"/>
<path d="M110.8,376.3 v-2.8"/>
<path d="M122.11,376.3 v-1.6"/>
<path d="M133.42,376.3 v-1.6"/>
<path d="M144.73,376.3 v-1.6"/>
<path d="M156.04,376.3 v-1.6"/>
<path d="M167.35,376.3 v-2.8"/>
<path d="M178.66,376.3 v-1.6"/>
<path d="M189.97,376.3 v-1.6"/>
<path d="M201.28,376.3 v-1.6"/>
<path d="M212.59,376.3 v-1.6"/>
<path d="M223.9,376.3 v-2.8"/>
<path d="M235.21,376.3 v-1.6"/>
<path d="M246.52,376.3 v-1.6"/>
<path d="M257.83,376.3 v-1.6"/>
</g>
<g stroke="#000" stroke-width="1.4" fill="none">
<path d="M307.5,239.84 V375.3 H529"/>
<path d="M307.5,370.88 h1.8"/>
<path d="M307.5,366.2 h3.2"/>
<path d="M307.5,361.52 h1.8"/>
<path d="M307.5,356.84 h1.8"/>
<path d="M307.5,352.16 h1.8"/>
<path d="M307.5,347.48 h1.8"/>
<path d="M307.5,342.8 h3.2"/>
<path d="M307.5,338.12 h1.8"/>
<path d="M307.5,333.44 h1.8"/>
<path d="M307.5,328.76 h1.8"/>
<path d="M307.5,324.08 h1.8"/>
<path d="M307.5,319.4 h3.2"/>
<path d="M307.5,314.72 h1.8"/>
<path d="M307.5,310.04 h1.8"/>
<path d="M307.5,305.36 h1.8"/>
<path d="M307.5,300.68 h1.8"/>
<path d="M307.5,296 h3.2"/>
<path d="M307.5,291.32 h1.8"/>
<path d="M307.5,286.64 h1.8"/>
<path d="M307.5,281.96 h1.8"/>
<path d="M307.5,277.28 h1.8"/>
<path d="M307.5,272.6 h3.2"/>
<path d="M307.5,267.92 h1.8"/>
<path d="M307.5,263.24 h1.8"/>
<path d="M307.5,258.56 h1.8"/>
<path d="M307.5,253.88 h1.8"/>
<path d="M307.5,249.2 h3.2"/>
<path d="M307.5,244.52 h1.8"/>
<path d="M307.5,239.84 h1.8"/>
<path d="M312.44,375.3 v-1.6"/>
<path d="M322.82,375.3 v-1.6"/>
<path d="M333.2,375.3 v-2.8"/>
<path d="M343.58,375.3 v-1.6"/>
<path d="M353.96,375.3 v-1.6"/>
<path d="M364.34,375.3 v-1.6"/>
<path d="M374.72,375.3 v-1.6"/>
<path d="M385.1,375.3 v-2.8"/>
<path d="M395.48,375.3 v-1.6"/>
<path d="M405.86,375.3 v-1.6"/>
<path d="M416.24,375.3 v-1.6"/>
<path d="M426.62,375.3 v-1.6"/>
<path d="M437,375.3 v-2.8"/>
<path d="M447.38,375.3 v-1.6"/>
<path d="M457.76,375.3 v-1.6"/>
<path d="M468.14,375.3 v-1.6"/>
<path d="M478.52,375.3 v-1.6"/>
<path d="M488.9,375.3 v-2.8"/>
<path d="M499.28,375.3 v-1.6"/>
<path d="M509.66,375.3 v-1.6"/>
<path d="M520.04,375.3 v-1.6"/>
<path d="M530.42,375.3 v-1.6"/>
</g>
<text x="24.5" y="362.4" style="font-family:'Liberation Serif',serif;font-size:17.45px" fill="#000" text-anchor="end">4</text>
<text x="24.5" y="326.8" style="font-family:'Liberation Serif',serif;font-size:17.45px" fill="#000" text-anchor="end">6</text>
<text x="24.5" y="291.2" style="font-family:'Liberation Serif',serif;font-size:17.45px" fill="#000" text-anchor="end">8</text>
<text x="24.5" y="255.6" style="font-family:'Liberation Serif',serif;font-size:17.45px" fill="#000" text-anchor="end">10</text>
<text x="53.75" y="391.6" style="font-family:'Liberation Serif',serif;font-size:17.45px" fill="#000" text-anchor="middle">5.0</text>
<text x="110.3" y="391.6" style="font-family:'Liberation Serif',serif;font-size:17.45px" fill="#000" text-anchor="middle">5.5</text>
<text x="166.85" y="391.6" style="font-family:'Liberation Serif',serif;font-size:17.45px" fill="#000" text-anchor="middle">6.0</text>
<text x="223.4" y="391.6" style="font-family:'Liberation Serif',serif;font-size:17.45px" fill="#000" text-anchor="middle">6.5</text>
<text x="305.8" y="370.3" style="font-family:'Liberation Serif',serif;font-size:17.6px" fill="#000" text-anchor="end">0.00</text>
<text x="305.8" y="346.9" style="font-family:'Liberation Serif',serif;font-size:17.6px" fill="#000" text-anchor="end">0.05</text>
<text x="305.8" y="323.5" style="font-family:'Liberation Serif',serif;font-size:17.6px" fill="#000" text-anchor="end">0.10</text>
<text x="305.8" y="300.1" style="font-family:'Liberation Serif',serif;font-size:17.6px" fill="#000" text-anchor="end">0.15</text>
<text x="305.8" y="276.7" style="font-family:'Liberation Serif',serif;font-size:17.6px" fill="#000" text-anchor="end">0.20</text>
<text x="305.8" y="253.3" style="font-family:'Liberation Serif',serif;font-size:17.6px" fill="#000" text-anchor="end">0.25</text>
<text x="332.7" y="390.6" style="font-family:'Liberation Serif',serif;font-size:17.6px" fill="#000" text-anchor="middle">5.0</text>
<text x="384.6" y="390.6" style="font-family:'Liberation Serif',serif;font-size:17.6px" fill="#000" text-anchor="middle">5.5</text>
<text x="436.5" y="390.6" style="font-family:'Liberation Serif',serif;font-size:17.6px" fill="#000" text-anchor="middle">6.0</text>
<text x="488.4" y="390.6" style="font-family:'Liberation Serif',serif;font-size:17.6px" fill="#000" text-anchor="middle">6.5</text>
<g stroke="#000" stroke-width="1.4" fill="none">
<path d="M26.1,451.1 V593.5 H257.83"/>
<path d="M26.1,593.5 h1.8"/>
<path d="M26.1,584.6 h1.8"/>
<path d="M26.1,575.7 h3"/>
<path d="M26.1,566.8 h1.8"/>
<path d="M26.1,557.9 h1.8"/>
<path d="M26.1,549 h1.8"/>
<path d="M26.1,540.1 h3"/>
<path d="M26.1,531.2 h1.8"/>
<path d="M26.1,522.3 h1.8"/>
<path d="M26.1,513.4 h1.8"/>
<path d="M26.1,504.5 h3"/>
<path d="M26.1,495.6 h1.8"/>
<path d="M26.1,486.7 h1.8"/>
<path d="M26.1,477.8 h1.8"/>
<path d="M26.1,468.9 h3"/>
<path d="M26.1,460 h1.8"/>
<path d="M26.1,451.1 h1.8"/>
<path d="M31.63,593.5 v-1.6"/>
<path d="M42.94,593.5 v-1.6"/>
<path d="M54.25,593.5 v-2.8"/>
<path d="M65.56,593.5 v-1.6"/>
<path d="M76.87,593.5 v-1.6"/>
<path d="M88.18,593.5 v-1.6"/>
<path d="M99.49,593.5 v-1.6"/>
<path d="M110.8,593.5 v-2.8"/>
<path d="M122.11,593.5 v-1.6"/>
<path d="M133.42,593.5 v-1.6"/>
<path d="M144.73,593.5 v-1.6"/>
<path d="M156.04,593.5 v-1.6"/>
<path d="M167.35,593.5 v-2.8"/>
<path d="M178.66,593.5 v-1.6"/>
<path d="M189.97,593.5 v-1.6"/>
<path d="M201.28,593.5 v-1.6"/>
<path d="M212.59,593.5 v-1.6"/>
<path d="M223.9,593.5 v-2.8"/>
<path d="M235.21,593.5 v-1.6"/>
<path d="M246.52,593.5 v-1.6"/>
<path d="M257.83,593.5 v-1.6"/>
</g>
<g stroke="#000" stroke-width="1.4" fill="none">
<path d="M307.5,456.84 V592.3 H529"/>
<path d="M307.5,587.88 h1.8"/>
<path d="M307.5,583.2 h3.2"/>
<path d="M307.5,578.52 h1.8"/>
<path d="M307.5,573.84 h1.8"/>
<path d="M307.5,569.16 h1.8"/>
<path d="M307.5,564.48 h1.8"/>
<path d="M307.5,559.8 h3.2"/>
<path d="M307.5,555.12 h1.8"/>
<path d="M307.5,550.44 h1.8"/>
<path d="M307.5,545.76 h1.8"/>
<path d="M307.5,541.08 h1.8"/>
<path d="M307.5,536.4 h3.2"/>
<path d="M307.5,531.72 h1.8"/>
<path d="M307.5,527.04 h1.8"/>
<path d="M307.5,522.36 h1.8"/>
<path d="M307.5,517.68 h1.8"/>
<path d="M307.5,513 h3.2"/>
<path d="M307.5,508.32 h1.8"/>
<path d="M307.5,503.64 h1.8"/>
<path d="M307.5,498.96 h1.8"/>
<path d="M307.5,494.28 h1.8"/>
<path d="M307.5,489.6 h3.2"/>
<path d="M307.5,484.92 h1.8"/>
<path d="M307.5,480.24 h1.8"/>
<path d="M307.5,475.56 h1.8"/>
<path d="M307.5,470.88 h1.8"/>
<path d="M307.5,466.2 h3.2"/>
<path d="M307.5,461.52 h1.8"/>
<path d="M307.5,456.84 h1.8"/>
<path d="M312.44,592.3 v-1.6"/>
<path d="M322.82,592.3 v-1.6"/>
<path d="M333.2,592.3 v-2.8"/>
<path d="M343.58,592.3 v-1.6"/>
<path d="M353.96,592.3 v-1.6"/>
<path d="M364.34,592.3 v-1.6"/>
<path d="M374.72,592.3 v-1.6"/>
<path d="M385.1,592.3 v-2.8"/>
<path d="M395.48,592.3 v-1.6"/>
<path d="M405.86,592.3 v-1.6"/>
<path d="M416.24,592.3 v-1.6"/>
<path d="M426.62,592.3 v-1.6"/>
<path d="M437,592.3 v-2.8"/>
<path d="M447.38,592.3 v-1.6"/>
<path d="M457.76,592.3 v-1.6"/>
<path d="M468.14,592.3 v-1.6"/>
<path d="M478.52,592.3 v-1.6"/>
<path d="M488.9,592.3 v-2.8"/>
<path d="M499.28,592.3 v-1.6"/>
<path d="M509.66,592.3 v-1.6"/>
<path d="M520.04,592.3 v-1.6"/>
<path d="M530.42,592.3 v-1.6"/>
</g>
<text x="24.5" y="579.6" style="font-family:'Liberation Serif',serif;font-size:17.45px" fill="#000" text-anchor="end">4</text>
<text x="24.5" y="544" style="font-family:'Liberation Serif',serif;font-size:17.45px" fill="#000" text-anchor="end">6</text>
<text x="24.5" y="508.4" style="font-family:'Liberation Serif',serif;font-size:17.45px" fill="#000" text-anchor="end">8</text>
<text x="24.5" y="472.8" style="font-family:'Liberation Serif',serif;font-size:17.45px" fill="#000" text-anchor="end">10</text>
<text x="53.75" y="608.8" style="font-family:'Liberation Serif',serif;font-size:17.45px" fill="#000" text-anchor="middle">5.0</text>
<text x="110.3" y="608.8" style="font-family:'Liberation Serif',serif;font-size:17.45px" fill="#000" text-anchor="middle">5.5</text>
<text x="166.85" y="608.8" style="font-family:'Liberation Serif',serif;font-size:17.45px" fill="#000" text-anchor="middle">6.0</text>
<text x="223.4" y="608.8" style="font-family:'Liberation Serif',serif;font-size:17.45px" fill="#000" text-anchor="middle">6.5</text>
<text x="305.8" y="587.3" style="font-family:'Liberation Serif',serif;font-size:17.6px" fill="#000" text-anchor="end">0.00</text>
<text x="305.8" y="563.9" style="font-family:'Liberation Serif',serif;font-size:17.6px" fill="#000" text-anchor="end">0.05</text>
<text x="305.8" y="540.5" style="font-family:'Liberation Serif',serif;font-size:17.6px" fill="#000" text-anchor="end">0.10</text>
<text x="305.8" y="517.1" style="font-family:'Liberation Serif',serif;font-size:17.6px" fill="#000" text-anchor="end">0.15</text>
<text x="305.8" y="493.7" style="font-family:'Liberation Serif',serif;font-size:17.6px" fill="#000" text-anchor="end">0.20</text>
<text x="305.8" y="470.3" style="font-family:'Liberation Serif',serif;font-size:17.6px" fill="#000" text-anchor="end">0.25</text>
<text x="332.7" y="607.6" style="font-family:'Liberation Serif',serif;font-size:17.6px" fill="#000" text-anchor="middle">5.0</text>
<text x="384.6" y="607.6" style="font-family:'Liberation Serif',serif;font-size:17.6px" fill="#000" text-anchor="middle">5.5</text>
<text x="436.5" y="607.6" style="font-family:'Liberation Serif',serif;font-size:17.6px" fill="#000" text-anchor="middle">6.0</text>
<text x="488.4" y="607.6" style="font-family:'Liberation Serif',serif;font-size:17.6px" fill="#000" text-anchor="middle">6.5</text>
<text x="-1.39" y="14.23" style="font-family:'Liberation Serif',serif;font-size:19.34px" fill="#000" text-anchor="start">(a)</text>
<text x="-1.56" y="234.88" style="font-family:'Liberation Serif',serif;font-size:19.34px" fill="#000" text-anchor="start">(b)</text>
<text x="-1.39" y="437.38" style="font-family:'Liberation Serif',serif;font-size:19.34px" fill="#000" text-anchor="start">(c)</text>
<text x="280.77" y="15.26" style="font-family:'Liberation Serif',serif;font-size:19.28px" fill="#000" text-anchor="start">(d)</text>
<text x="282.62" y="227.63" style="font-family:'Liberation Serif',serif;font-size:19.34px" fill="#000" text-anchor="start">(e)</text>
<text x="284.03" y="444.35" style="font-family:'Liberation Serif',serif;font-size:18.49px" fill="#000" text-anchor="start">(f)</text>
<text transform="translate(316.39,15.33) skewX(-13)" x="0" y="0" style="font-family:'Liberation Serif',serif;font-style:italic;font-size:24.53px;stroke:#000;stroke-width:0.25px" fill="#000">ε</text>
<text transform="translate(317.09,232.93) skewX(-13)" x="0" y="0" style="font-family:'Liberation Serif',serif;font-style:italic;font-size:24.53px;stroke:#000;stroke-width:0.25px" fill="#000">ε</text>
<text transform="translate(316.89,449.48) skewX(-13)" x="0" y="0" style="font-family:'Liberation Serif',serif;font-style:italic;font-size:24.53px;stroke:#000;stroke-width:0.25px" fill="#000">ε</text>
<text x="160.13" y="17" style="font-family:'Liberation Serif',serif;font-style:italic;stroke:#000;stroke-width:0.3px;font-size:18.9px" fill="#000" text-anchor="start">ω</text>
<path d="M178.9,3 L172.9,21.6" stroke="#000" stroke-width="1.05"/>
<text x="180.13" y="17" style="font-family:'Liberation Serif',serif;font-style:italic;stroke:#000;stroke-width:0.3px;font-size:18.9px" fill="#000" text-anchor="start">ω</text>
<text x="192.76" y="21.38" style="font-family:'Liberation Serif',serif;font-size:11px" fill="#000" text-anchor="start">0</text>
<text x="203.15" y="18" style="font-family:'Liberation Serif',serif;font-size:18.3px" fill="#000" text-anchor="start">≈</text>
<text x="216.67" y="16.73" style="font-family:'Liberation Serif',serif;font-size:18.3px" fill="#000" text-anchor="start">0.66</text>
<text x="164.53" y="235" style="font-family:'Liberation Serif',serif;font-style:italic;stroke:#000;stroke-width:0.3px;font-size:18.9px" fill="#000" text-anchor="start">ω</text>
<path d="M183.3,221 L177.3,239.6" stroke="#000" stroke-width="1.05"/>
<text x="184.53" y="235" style="font-family:'Liberation Serif',serif;font-style:italic;stroke:#000;stroke-width:0.3px;font-size:18.9px" fill="#000" text-anchor="start">ω</text>
<text x="197.16" y="239.38" style="font-family:'Liberation Serif',serif;font-size:11px" fill="#000" text-anchor="start">0</text>
<text x="207.55" y="236" style="font-family:'Liberation Serif',serif;font-size:18.3px" fill="#000" text-anchor="start">≈</text>
<text x="221.07" y="234.73" style="font-family:'Liberation Serif',serif;font-size:18.3px" fill="#000" text-anchor="start">6.6</text>
<text x="167.13" y="451.5" style="font-family:'Liberation Serif',serif;font-style:italic;stroke:#000;stroke-width:0.3px;font-size:18.9px" fill="#000" text-anchor="start">ω</text>
<path d="M185.9,437.5 L179.9,456.1" stroke="#000" stroke-width="1.05"/>
<text x="187.13" y="451.5" style="font-family:'Liberation Serif',serif;font-style:italic;stroke:#000;stroke-width:0.3px;font-size:18.9px" fill="#000" text-anchor="start">ω</text>
<text x="199.76" y="455.88" style="font-family:'Liberation Serif',serif;font-size:11px" fill="#000" text-anchor="start">0</text>
<text x="210.15" y="452.5" style="font-family:'Liberation Serif',serif;font-size:18.3px" fill="#000" text-anchor="start">≈</text>
<text x="223.17" y="451.23" style="font-family:'Liberation Serif',serif;font-size:18.3px" fill="#000" text-anchor="start">66</text>
<text x="113.03" y="197.77" style="font-family:'Liberation Serif',serif;font-size:19.2px" fill="#000" text-anchor="start">(</text>
<text x="119.32" y="197.7" style="font-family:'Liberation Serif',serif;font-style:italic;stroke:#000;stroke-width:0.3px;font-size:19.2px" fill="#000" text-anchor="start">ω</text>
<path d="M138.7,183.9 L132.6,202.4" stroke="#000" stroke-width="1.05"/>
<text x="140.02" y="197.7" style="font-family:'Liberation Serif',serif;font-style:italic;stroke:#000;stroke-width:0.3px;font-size:19.2px" fill="#000" text-anchor="start">ω</text>
<text x="153.08" y="202.2" style="font-family:'Liberation Serif',serif;font-size:10.5px" fill="#000" text-anchor="start">0</text>
<text x="159.32" y="197.7" style="font-family:'Liberation Serif',serif;font-size:19.2px" fill="#000" text-anchor="start">)</text>
<text x="165.8" y="197.7" style="font-family:'Liberation Serif',serif;font-style:italic;font-size:17px" fill="#000" text-anchor="start">t</text>
<text x="113.03" y="416.77" style="font-family:'Liberation Serif',serif;font-size:19.2px" fill="#000" text-anchor="start">(</text>
<text x="119.32" y="416.7" style="font-family:'Liberation Serif',serif;font-style:italic;stroke:#000;stroke-width:0.3px;font-size:19.2px" fill="#000" text-anchor="start">ω</text>
<path d="M138.7,402.9 L132.6,421.4" stroke="#000" stroke-width="1.05"/>
<text x="140.02" y="416.7" style="font-family:'Liberation Serif',serif;font-style:italic;stroke:#000;stroke-width:0.3px;font-size:19.2px" fill="#000" text-anchor="start">ω</text>
<text x="153.08" y="421.2" style="font-family:'Liberation Serif',serif;font-size:10.5px" fill="#000" text-anchor="start">0</text>
<text x="159.32" y="416.7" style="font-family:'Liberation Serif',serif;font-size:19.2px" fill="#000" text-anchor="start">)</text>
<text x="165.8" y="416.7" style="font-family:'Liberation Serif',serif;font-style:italic;font-size:17px" fill="#000" text-anchor="start">t</text>
<text x="113.03" y="632.37" style="font-family:'Liberation Serif',serif;font-size:19.2px" fill="#000" text-anchor="start">(</text>
<text x="119.32" y="632.3" style="font-family:'Liberation Serif',serif;font-style:italic;stroke:#000;stroke-width:0.3px;font-size:19.2px" fill="#000" text-anchor="start">ω</text>
<path d="M138.7,618.5 L132.6,637" stroke="#000" stroke-width="1.05"/>
<text x="140.02" y="632.3" style="font-family:'Liberation Serif',serif;font-style:italic;stroke:#000;stroke-width:0.3px;font-size:19.2px" fill="#000" text-anchor="start">ω</text>
<text x="153.08" y="636.8" style="font-family:'Liberation Serif',serif;font-size:10.5px" fill="#000" text-anchor="start">0</text>
<text x="159.32" y="632.3" style="font-family:'Liberation Serif',serif;font-size:19.2px" fill="#000" text-anchor="start">)</text>
<text x="165.8" y="632.3" style="font-family:'Liberation Serif',serif;font-style:italic;font-size:17px" fill="#000" text-anchor="start">t</text>
<text x="383.63" y="197.77" style="font-family:'Liberation Serif',serif;font-size:19.2px" fill="#000" text-anchor="start">(</text>
<text x="389.92" y="197.7" style="font-family:'Liberation Serif',serif;font-style:italic;stroke:#000;stroke-width:0.3px;font-size:19.2px" fill="#000" text-anchor="start">ω</text>
<path d="M409.3,183.9 L403.2,202.4" stroke="#000" stroke-width="1.05"/>
<text x="410.62" y="197.7" style="font-family:'Liberation Serif',serif;font-style:italic;stroke:#000;stroke-width:0.3px;font-size:19.2px" fill="#000" text-anchor="start">ω</text>
<text x="423.68" y="202.2" style="font-family:'Liberation Serif',serif;font-size:10.5px" fill="#000" text-anchor="start">0</text>
<text x="429.92" y="197.7" style="font-family:'Liberation Serif',serif;font-size:19.2px" fill="#000" text-anchor="start">)</text>
<text x="436.4" y="197.7" style="font-family:'Liberation Serif',serif;font-style:italic;font-size:17px" fill="#000" text-anchor="start">t</text>
<text x="383.63" y="416.07" style="font-family:'Liberation Serif',serif;font-size:19.2px" fill="#000" text-anchor="start">(</text>
<text x="389.92" y="416" style="font-family:'Liberation Serif',serif;font-style:italic;stroke:#000;stroke-width:0.3px;font-size:19.2px" fill="#000" text-anchor="start">ω</text>
<path d="M409.3,402.2 L403.2,420.7" stroke="#000" stroke-width="1.05"/>
<text x="410.62" y="416" style="font-family:'Liberation Serif',serif;font-style:italic;stroke:#000;stroke-width:0.3px;font-size:19.2px" fill="#000" text-anchor="start">ω</text>
<text x="423.68" y="420.5" style="font-family:'Liberation Serif',serif;font-size:10.5px" fill="#000" text-anchor="start">0</text>
<text x="429.92" y="416" style="font-family:'Liberation Serif',serif;font-size:19.2px" fill="#000" text-anchor="start">)</text>
<text x="436.4" y="416" style="font-family:'Liberation Serif',serif;font-style:italic;font-size:17px" fill="#000" text-anchor="start">t</text>
<text x="383.63" y="632.17" style="font-family:'Liberation Serif',serif;font-size:19.2px" fill="#000" text-anchor="start">(</text>
<text x="389.92" y="632.1" style="font-family:'Liberation Serif',serif;font-style:italic;stroke:#000;stroke-width:0.3px;font-size:19.2px" fill="#000" text-anchor="start">ω</text>
<path d="M409.3,618.3 L403.2,636.8" stroke="#000" stroke-width="1.05"/>
<text x="410.62" y="632.1" style="font-family:'Liberation Serif',serif;font-style:italic;stroke:#000;stroke-width:0.3px;font-size:19.2px" fill="#000" text-anchor="start">ω</text>
<text x="423.68" y="636.6" style="font-family:'Liberation Serif',serif;font-size:10.5px" fill="#000" text-anchor="start">0</text>
<text x="429.92" y="632.1" style="font-family:'Liberation Serif',serif;font-size:19.2px" fill="#000" text-anchor="start">)</text>
<text x="436.4" y="632.1" style="font-family:'Liberation Serif',serif;font-style:italic;font-size:17px" fill="#000" text-anchor="start">t</text>
<text x="71.21" y="68.5" style="font-family:'Liberation Sans',sans-serif;font-style:italic;stroke:#ff0000;stroke-width:0.35px;font-size:21.83px" fill="#ff0000" text-anchor="start">n<tspan font-size="14.41" dx="1.09" dy="5.13" stroke-width="0.2">23</tspan></text>
<text x="84.12" y="282.27" style="font-family:'Liberation Sans',sans-serif;font-style:italic;stroke:#ff0000;stroke-width:0.35px;font-size:21.35px" fill="#ff0000" text-anchor="start">n<tspan font-size="14.09" dx="1.07" dy="5.02" stroke-width="0.2">23</tspan></text>
<text x="41.76" y="505.83" style="font-family:'Liberation Sans',sans-serif;font-style:italic;stroke:#ff0000;stroke-width:0.35px;font-size:21.45px" fill="#ff0000" text-anchor="start">n<tspan font-size="14.15" dx="1.07" dy="5.04" stroke-width="0.2">23</tspan></text>
<text x="69.61" y="113.86" style="font-family:'Liberation Sans',sans-serif;font-style:italic;stroke:#2200ff;stroke-width:0.35px;font-size:20.99px" fill="#2200ff" text-anchor="start">n<tspan font-size="13.85" dx="1.05" dy="4.93" stroke-width="0.2">13</tspan></text>
<text x="69.4" y="331.06" style="font-family:'Liberation Sans',sans-serif;font-style:italic;stroke:#2200ff;stroke-width:0.35px;font-size:21.31px" fill="#2200ff" text-anchor="start">n<tspan font-size="14.06" dx="1.07" dy="5.01" stroke-width="0.2">13</tspan></text>
<text x="97.41" y="506.35" style="font-family:'Liberation Sans',sans-serif;font-style:italic;stroke:#2200ff;stroke-width:0.35px;font-size:21.53px" fill="#2200ff" text-anchor="start">n<tspan font-size="14.21" dx="1.08" dy="5.06" stroke-width="0.2">13</tspan></text>
<text transform="translate(399.98,86.18) skewX(-12)" x="0" y="0" style="font-family:'Liberation Serif',serif;font-style:italic;font-size:21.94px;stroke:#ff0000;stroke-width:0.3px" fill="#ff0000">ε</text>
<text x="409.06" y="91.98" style="font-family:'Liberation Serif',serif;stroke:#ff0000;stroke-width:0.1px;font-size:14.07px" fill="#ff0000" text-anchor="start">23</text>
<text transform="translate(406.73,255.08) skewX(-12)" x="0" y="0" style="font-family:'Liberation Serif',serif;font-style:italic;font-size:22.42px;stroke:#ff0000;stroke-width:0.3px" fill="#ff0000">ε</text>
<text x="416" y="261.01" style="font-family:'Liberation Serif',serif;stroke:#ff0000;stroke-width:0.1px;font-size:14.38px" fill="#ff0000" text-anchor="start">23</text>
<text transform="translate(413.96,526.73) skewX(-12)" x="0" y="0" style="font-family:'Liberation Serif',serif;font-style:italic;font-size:21.47px;stroke:#ff0000;stroke-width:0.3px" fill="#ff0000">ε</text>
<text x="422.85" y="532.4" style="font-family:'Liberation Serif',serif;stroke:#ff0000;stroke-width:0.1px;font-size:13.78px" fill="#ff0000" text-anchor="start">23</text>
<text transform="translate(349.51,86.14) skewX(-12)" x="0" y="0" style="font-family:'Liberation Serif',serif;font-style:italic;font-size:21.58px;stroke:#2200ff;stroke-width:0.3px" fill="#2200ff">ε</text>
<text x="358.44" y="91.84" style="font-family:'Liberation Serif',serif;stroke:#2200ff;stroke-width:0.1px;font-size:13.84px" fill="#2200ff" text-anchor="start">13</text>
<text transform="translate(356.14,255.04) skewX(-12)" x="0" y="0" style="font-family:'Liberation Serif',serif;font-style:italic;font-size:22.01px;stroke:#2200ff;stroke-width:0.3px" fill="#2200ff">ε</text>
<text x="365.25" y="260.86" style="font-family:'Liberation Serif',serif;stroke:#2200ff;stroke-width:0.1px;font-size:14.12px" fill="#2200ff" text-anchor="start">13</text>
<text transform="translate(363.68,526.76) skewX(-12)" x="0" y="0" style="font-family:'Liberation Serif',serif;font-style:italic;font-size:21.73px;stroke:#2200ff;stroke-width:0.3px" fill="#2200ff">ε</text>
<text x="372.68" y="532.51" style="font-family:'Liberation Serif',serif;stroke:#2200ff;stroke-width:0.1px;font-size:13.94px" fill="#2200ff" text-anchor="start">13</text>
<text x="247.75" y="641.4" style="font-family:'Liberation Serif',serif;font-style:italic;font-size:15.5px" fill="#000" text-anchor="start">U</text>
<text x="259.6" y="634.6" style="font-family:'Liberation Serif',serif;font-size:10px" fill="#000" text-anchor="start">(</text>
<text x="263.1" y="634.6" style="font-family:'Liberation Serif',serif;font-style:italic;font-size:10px" fill="#000" text-anchor="start">I</text>
<text x="266.6" y="634.6" style="font-family:'Liberation Serif',serif;font-size:10px" fill="#000" text-anchor="start">)</text>
<text x="259.85" y="646.6" style="font-family:'Liberation Serif',serif;font-size:10px" fill="#000" text-anchor="start">0</text>
<text x="275.9" y="641.4" style="font-family:'Liberation Serif',serif;font-style:italic;font-size:15.5px" fill="#000" text-anchor="start">k</text>
<text x="283.9" y="646.6" style="font-family:'Liberation Serif',serif;font-style:italic;font-size:10px" fill="#000" text-anchor="start">B</text>
<text x="289.9" y="641.4" style="font-family:'Liberation Serif',serif;font-style:italic;font-size:15.5px" fill="#000" text-anchor="start">T</text>
<text x="302.2" y="643" style="font-family:'Liberation Serif',serif;font-size:17px" fill="#000" text-anchor="start">=</text>
<text x="314.7" y="641.4" style="font-family:'Liberation Serif',serif;font-size:15.5px" fill="#000" text-anchor="start">37</text>
<path d="M274.4,628.8 L270.5,641.3" stroke="#000" stroke-width="1.0"/>
<path d="M42.1,0.2 L37.9,8.6 L42.1,17 M51.8,0.2 L56,8.6 L51.8,17" fill="none" stroke="#111" stroke-width="1.1" stroke-linejoin="miter"/>
<text x="43" y="13.3" style="font-family:'Liberation Serif',serif;font-style:italic;font-size:15.5px" fill="#000" text-anchor="start">n</text>
<path d="M40.4,216.2 L36.2,226.55 L40.4,236.9 M53.7,216.2 L57.9,226.55 L53.7,236.9" fill="none" stroke="#111" stroke-width="1.1" stroke-linejoin="miter"/>
<text x="42.2" y="232.6" style="font-family:'Liberation Serif',serif;font-style:italic;font-size:19.5px" fill="#000" text-anchor="start">n</text>
<path d="M40.1,433.7 L35.9,443.95 L40.1,454.2 M53.3,433.7 L57.5,443.95 L53.3,454.2" fill="none" stroke="#111" stroke-width="1.1" stroke-linejoin="miter"/>
<text x="42.3" y="449.5" style="font-family:'Liberation Serif',serif;font-style:italic;font-size:19px" fill="#000" text-anchor="start">n</text>
<circle cx="474.2" cy="42.4" r="14.8" fill="#d6d6d6"/>
<circle cx="460.6" cy="68.0" r="15.5" fill="#d6d6d6"/>
<circle cx="488.8" cy="68.0" r="15.5" fill="#d6d6d6"/>
<circle cx="474.2" cy="42.4" r="12.6" fill="#a9b9d3"/>
<circle cx="460.6" cy="68.0" r="13.3" fill="#a9b9d3"/>
<circle cx="488.8" cy="68.0" r="13.3" fill="#a9b9d3"/>
<circle cx="474.2" cy="42.4" r="9.9" fill="#b9c7d4"/>
<circle cx="460.6" cy="68.0" r="9.9" fill="#b9c7d4"/>
<circle cx="488.8" cy="68.0" r="9.9" fill="#b9c7d4"/>
<path d="M474.2,43.2 L460.6,68 M474.2,43.2 L488.8,68 M460.6,68 H488.8" stroke="#000" stroke-width="2.1" fill="none"/>
<circle cx="474.2" cy="43.2" r="9.0" fill="#0a48f4"/>
<circle cx="460.6" cy="68.0" r="9.0" fill="#0a48f4"/>
<circle cx="488.8" cy="68.0" r="9.0" fill="#0a48f4"/>
<circle cx="474.2" cy="43.2" r="1.35" fill="#ff2a00"/>
<circle cx="460.6" cy="68.0" r="1.35" fill="#ff2a00"/>
<circle cx="488.8" cy="68.0" r="1.35" fill="#ff2a00"/>
<g stroke="#000" stroke-width="2.2" fill="none" stroke-linecap="round" stroke-linejoin="round"><path d="M450,42.5 H505" stroke-linecap="butt"/><path d="M461.3,38.5 L449,42.45 L461.3,46.6"/><path d="M493.6,38.5 L506.2,42.45 L493.6,46.6"/></g><path d="M448.3,42.45 L456.5,39.9 L455,42.45 L456.5,45.1 Z M506.9,42.45 L498.5,39.9 L500,42.45 L498.5,45.1 Z" fill="#000"/>
<text x="438.44" y="88.9" style="font-family:'Liberation Sans',sans-serif;font-size:14.86px" fill="#000" text-anchor="start">1</text>
<text x="498.76" y="88.7" style="font-family:'Liberation Sans',sans-serif;font-size:14.86px" fill="#000" text-anchor="start">2</text>
<text x="470.68" y="21.7" style="font-family:'Liberation Sans',sans-serif;font-size:14.86px" fill="#000" text-anchor="start">3</text>
</svg>
</body></html>
